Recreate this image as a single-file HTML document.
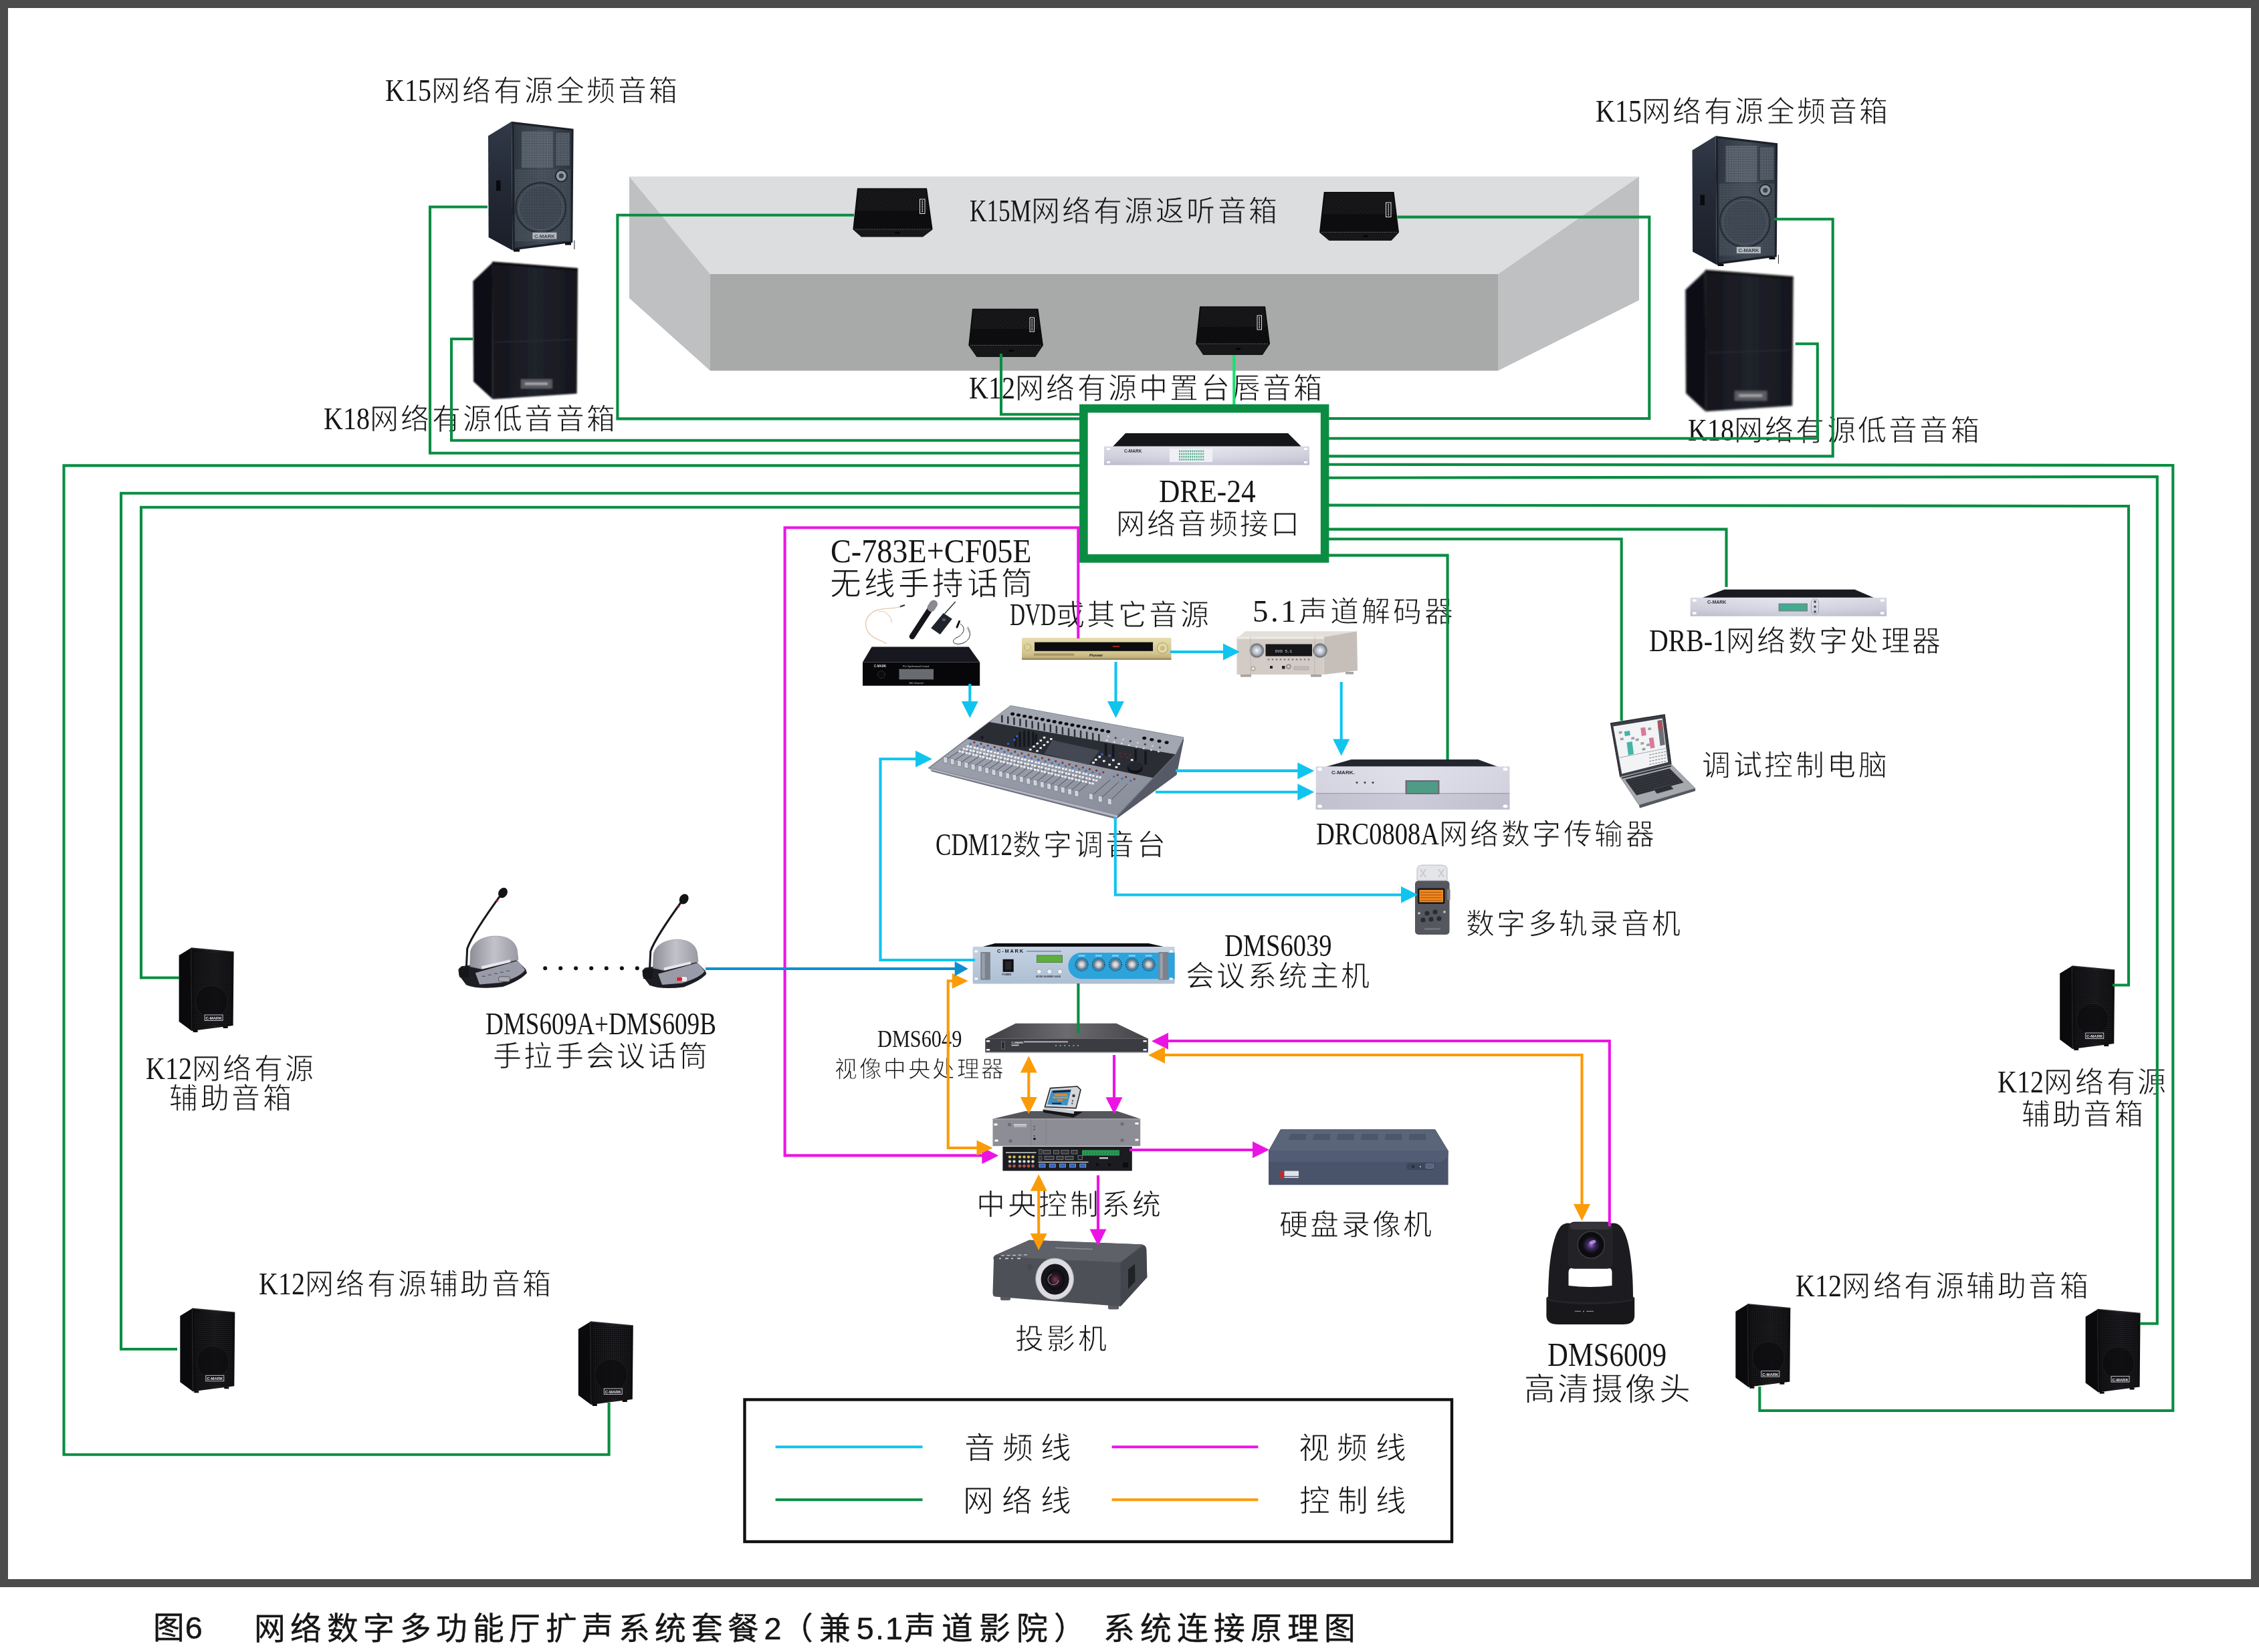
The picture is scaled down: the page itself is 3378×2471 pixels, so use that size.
<!DOCTYPE html><html lang="zh-CN"><head><meta charset="utf-8"><title>diagram</title><style>html,body{margin:0;padding:0;background:#fff}
body{width:3378px;height:2471px;position:relative;overflow:hidden}
.fr{position:absolute;left:0;top:0;width:3378px;height:2374px;background:#4c4c4c}
.in{position:absolute;left:12px;top:12px;width:3354px;height:2350px;background:#fff}
.t{position:absolute;white-space:nowrap;line-height:1;will-change:transform}
svg{position:absolute;left:0;top:0;will-change:transform}</style></head><body><div class="fr"></div><div class="in"></div><svg width="3378" height="2471" viewBox="0 0 3378 2471"><polygon points="941,264 2451,264 2240,410 1062,410" fill="#dcdddf" /><polygon points="941,264 1062,410 1062,554.5 941,446" fill="#bfc0c2" /><polygon points="2451,264 2451,449 2240,554.5 2240,410" fill="#bfc0c2" /><rect x="1062" y="410" width="1178" height="144.5" fill="#a8aaa9" /><rect x="1113.5" y="2093.5" width="1057.5" height="212.5" fill="#fff" stroke="#111" stroke-width="4.4"/><path d="M1159.6,2164.2H1379.5" fill="none" stroke="#10c4ee" stroke-width="4" /><path d="M1159.6,2243.3H1379.5" fill="none" stroke="#0a8d42" stroke-width="4" /><path d="M1662.6,2164.2H1881.4" fill="none" stroke="#ec14e4" stroke-width="4" /><path d="M1662.6,2243.3H1881.4" fill="none" stroke="#fb9b08" stroke-width="4" /></svg><div class="t" style="left:576.0px;top:112.2px;font-size:43.01px;letter-spacing:3.42px;font-family:'Liberation Serif',serif;color:#161616;-webkit-text-stroke:0.9px #fff;"><span style="display:inline-block;font-size:46.92px;letter-spacing:0;-webkit-text-stroke:0;transform:scaleX(0.8539);transform-origin:0 50%;margin-right:-11.80px">K15</span>网络有源全频音箱</div><div class="t" style="left:2385.5px;top:142.5px;font-size:43.01px;letter-spacing:3.42px;font-family:'Liberation Serif',serif;color:#161616;-webkit-text-stroke:0.9px #fff;"><span style="display:inline-block;font-size:46.92px;letter-spacing:0;-webkit-text-stroke:0;transform:scaleX(0.8539);transform-origin:0 50%;margin-right:-11.80px">K15</span>网络有源全频音箱</div><div class="t" style="left:1449.5px;top:291.5px;font-size:43.01px;letter-spacing:3.42px;font-family:'Liberation Serif',serif;color:#161616;-webkit-text-stroke:0.9px #dcdddf;"><span style="display:inline-block;font-size:46.92px;letter-spacing:0;-webkit-text-stroke:0;transform:scaleX(0.7509);transform-origin:0 50%;margin-right:-30.52px">K15M</span>网络有源返听音箱</div><div class="t" style="left:1448.5px;top:556.5px;font-size:43.01px;letter-spacing:3.27px;font-family:'Liberation Serif',serif;color:#161616;-webkit-text-stroke:0.9px #fff;"><span style="display:inline-block;font-size:46.92px;letter-spacing:0;-webkit-text-stroke:0;transform:scaleX(0.8539);transform-origin:0 50%;margin-right:-11.80px">K12</span>网络有源中置台唇音箱</div><div class="t" style="left:484.0px;top:603.1px;font-size:43.01px;letter-spacing:3.28px;font-family:'Liberation Serif',serif;color:#161616;-webkit-text-stroke:0.9px #fff;"><span style="display:inline-block;font-size:46.92px;letter-spacing:0;-webkit-text-stroke:0;transform:scaleX(0.8539);transform-origin:0 50%;margin-right:-11.80px">K18</span>网络有源低音音箱</div><div class="t" style="left:2523.7px;top:619.5px;font-size:43.01px;letter-spacing:3.23px;font-family:'Liberation Serif',serif;color:#161616;-webkit-text-stroke:0.9px #fff;"><span style="display:inline-block;font-size:46.92px;letter-spacing:0;-webkit-text-stroke:0;transform:scaleX(0.8539);transform-origin:0 50%;margin-right:-11.80px">K18</span>网络有源低音音箱</div><div class="t" style="left:1732.7px;top:711.0px;font-size:44.88px;letter-spacing:0.00px;font-family:'Liberation Serif',serif;color:#161616;-webkit-text-stroke:0.9px #fff;"><span style="display:inline-block;font-size:48.96px;letter-spacing:0;-webkit-text-stroke:0;transform:scaleX(0.8868);transform-origin:0 50%;margin-right:-18.47px">DRE-24</span></div><div class="t" style="left:1668.6px;top:763.1px;font-size:43.01px;letter-spacing:3.23px;font-family:'Liberation Serif',serif;color:#161616;-webkit-text-stroke:0.9px #fff;">网络音频接口</div><div class="t" style="left:1241.7px;top:798.9px;font-size:46.75px;letter-spacing:0.00px;font-family:'Liberation Serif',serif;color:#161616;-webkit-text-stroke:0.9px #fff;"><span style="display:inline-block;font-size:51.00px;letter-spacing:0;-webkit-text-stroke:0;transform:scaleX(0.9053);transform-origin:0 50%;margin-right:-31.44px">C-783E+CF05E</span></div><div class="t" style="left:1240.7px;top:849.5px;font-size:46.75px;letter-spacing:4.15px;font-family:'Liberation Serif',serif;color:#161616;-webkit-text-stroke:0.9px #fff;">无线手持话筒</div><div class="t" style="left:1510.0px;top:895.5px;font-size:43.01px;letter-spacing:3.49px;font-family:'Liberation Serif',serif;color:#161616;-webkit-text-stroke:0.9px #fff;"><span style="display:inline-block;font-size:46.92px;letter-spacing:0;-webkit-text-stroke:0;transform:scaleX(0.6788);transform-origin:0 50%;margin-right:-32.65px">DVD</span>或其它音源</div><div class="t" style="left:1873.0px;top:890.5px;font-size:43.01px;letter-spacing:3.99px;font-family:'Liberation Serif',serif;color:#161616;-webkit-text-stroke:0.9px #fff;"><span style="font-size:46.92px;letter-spacing:3.45px;-webkit-text-stroke:0">5.1</span>声道解码器</div><div class="t" style="left:1399.0px;top:1239.8px;font-size:43.01px;letter-spacing:3.49px;font-family:'Liberation Serif',serif;color:#161616;-webkit-text-stroke:0.9px #fff;"><span style="display:inline-block;font-size:46.92px;letter-spacing:0;-webkit-text-stroke:0;transform:scaleX(0.7476);transform-origin:0 50%;margin-right:-38.82px">CDM12</span>数字调音台</div><div class="t" style="left:1968.0px;top:1223.9px;font-size:43.01px;letter-spacing:3.49px;font-family:'Liberation Serif',serif;color:#161616;-webkit-text-stroke:0.9px #fff;"><span style="display:inline-block;font-size:46.92px;letter-spacing:0;-webkit-text-stroke:0;transform:scaleX(0.8207);transform-origin:0 50%;margin-right:-40.20px">DRC0808A</span>网络数字传输器</div><div class="t" style="left:2466.0px;top:934.5px;font-size:43.01px;letter-spacing:3.34px;font-family:'Liberation Serif',serif;color:#161616;-webkit-text-stroke:0.9px #fff;"><span style="display:inline-block;font-size:46.92px;letter-spacing:0;-webkit-text-stroke:0;transform:scaleX(0.8483);transform-origin:0 50%;margin-right:-20.56px">DRB-1</span>网络数字处理器</div><div class="t" style="left:2544.8px;top:1124.4px;font-size:43.01px;letter-spacing:3.71px;font-family:'Liberation Serif',serif;color:#161616;-webkit-text-stroke:0.9px #fff;">调试控制电脑</div><div class="t" style="left:2191.5px;top:1360.8px;font-size:43.01px;letter-spacing:3.31px;font-family:'Liberation Serif',serif;color:#161616;-webkit-text-stroke:0.9px #fff;">数字多轨录音机</div><div class="t" style="left:1831.0px;top:1390.5px;font-size:43.01px;letter-spacing:0.00px;font-family:'Liberation Serif',serif;color:#161616;-webkit-text-stroke:0.9px #fff;"><span style="display:inline-block;font-size:46.92px;letter-spacing:0;-webkit-text-stroke:0;transform:scaleX(0.8208);transform-origin:0 50%;margin-right:-35.04px">DMS6039</span></div><div class="t" style="left:1773.0px;top:1438.8px;font-size:43.01px;letter-spacing:3.39px;font-family:'Liberation Serif',serif;color:#161616;-webkit-text-stroke:0.9px #fff;">会议系统主机</div><div class="t" style="left:1311.6px;top:1535.5px;font-size:33.66px;letter-spacing:0.00px;font-family:'Liberation Serif',serif;color:#161616;-webkit-text-stroke:0.9px #fff;"><span style="display:inline-block;font-size:36.72px;letter-spacing:0;-webkit-text-stroke:0;transform:scaleX(0.8254);transform-origin:0 50%;margin-right:-26.72px">DMS6049</span></div><div class="t" style="left:1247.7px;top:1582.5px;font-size:33.66px;letter-spacing:2.57px;font-family:'Liberation Serif',serif;color:#161616;-webkit-text-stroke:0.9px #fff;">视像中央处理器</div><div class="t" style="left:726.0px;top:1507.5px;font-size:43.01px;letter-spacing:0.00px;font-family:'Liberation Serif',serif;color:#161616;-webkit-text-stroke:0.9px #fff;"><span style="display:inline-block;font-size:46.92px;letter-spacing:0;-webkit-text-stroke:0;transform:scaleX(0.7917);transform-origin:0 50%;margin-right:-90.80px">DMS609A+DMS609B</span></div><div class="t" style="left:736.7px;top:1558.9px;font-size:43.01px;letter-spacing:3.31px;font-family:'Liberation Serif',serif;color:#161616;-webkit-text-stroke:0.9px #fff;">手拉手会议话筒</div><div class="t" style="left:217.6px;top:1575.0px;font-size:43.01px;letter-spacing:3.39px;font-family:'Liberation Serif',serif;color:#161616;-webkit-text-stroke:0.9px #fff;"><span style="display:inline-block;font-size:46.92px;letter-spacing:0;-webkit-text-stroke:0;transform:scaleX(0.8539);transform-origin:0 50%;margin-right:-11.80px">K12</span>网络有源</div><div class="t" style="left:252.7px;top:1622.0px;font-size:43.01px;letter-spacing:3.69px;font-family:'Liberation Serif',serif;color:#161616;-webkit-text-stroke:0.9px #fff;">辅助音箱</div><div class="t" style="left:386.6px;top:1897.2px;font-size:43.01px;letter-spacing:3.45px;font-family:'Liberation Serif',serif;color:#161616;-webkit-text-stroke:0.9px #fff;"><span style="display:inline-block;font-size:46.92px;letter-spacing:0;-webkit-text-stroke:0;transform:scaleX(0.8539);transform-origin:0 50%;margin-right:-11.80px">K12</span>网络有源辅助音箱</div><div class="t" style="left:1459.9px;top:1781.2px;font-size:43.01px;letter-spacing:3.63px;font-family:'Liberation Serif',serif;color:#161616;-webkit-text-stroke:0.9px #fff;">中央控制系统</div><div class="t" style="left:1912.7px;top:1810.8px;font-size:43.01px;letter-spacing:3.32px;font-family:'Liberation Serif',serif;color:#161616;-webkit-text-stroke:0.9px #fff;">硬盘录像机</div><div class="t" style="left:1518.0px;top:1981.8px;font-size:43.01px;letter-spacing:4.04px;font-family:'Liberation Serif',serif;color:#161616;-webkit-text-stroke:0.9px #fff;">投影机</div><div class="t" style="left:2314.0px;top:2000.5px;font-size:46.75px;letter-spacing:0.00px;font-family:'Liberation Serif',serif;color:#161616;-webkit-text-stroke:0.9px #fff;"><span style="display:inline-block;font-size:51.00px;letter-spacing:0;-webkit-text-stroke:0;transform:scaleX(0.8378);transform-origin:0 50%;margin-right:-34.48px">DMS6009</span></div><div class="t" style="left:2278.7px;top:2054.9px;font-size:46.75px;letter-spacing:3.45px;font-family:'Liberation Serif',serif;color:#161616;-webkit-text-stroke:0.9px #fff;">高清摄像头</div><div class="t" style="left:2685.2px;top:1899.7px;font-size:43.01px;letter-spacing:3.56px;font-family:'Liberation Serif',serif;color:#161616;-webkit-text-stroke:0.9px #fff;"><span style="display:inline-block;font-size:46.92px;letter-spacing:0;-webkit-text-stroke:0;transform:scaleX(0.8539);transform-origin:0 50%;margin-right:-11.80px">K12</span>网络有源辅助音箱</div><div class="t" style="left:2987.3px;top:1594.5px;font-size:43.01px;letter-spacing:3.82px;font-family:'Liberation Serif',serif;color:#161616;-webkit-text-stroke:0.9px #fff;"><span style="display:inline-block;font-size:46.92px;letter-spacing:0;-webkit-text-stroke:0;transform:scaleX(0.8539);transform-origin:0 50%;margin-right:-11.80px">K12</span>网络有源</div><div class="t" style="left:3023.0px;top:1646.4px;font-size:43.01px;letter-spacing:3.22px;font-family:'Liberation Serif',serif;color:#161616;-webkit-text-stroke:0.9px #fff;">辅助音箱</div><div class="t" style="left:1442.4px;top:2144.0px;font-size:45.82px;letter-spacing:10.93px;font-family:'Liberation Serif',serif;color:#161616;-webkit-text-stroke:0.9px #fff;">音频线</div><div class="t" style="left:1941.7px;top:2144.0px;font-size:45.82px;letter-spacing:11.34px;font-family:'Liberation Serif',serif;color:#161616;-webkit-text-stroke:0.9px #fff;">视频线</div><div class="t" style="left:1440.4px;top:2223.2px;font-size:45.82px;letter-spacing:11.93px;font-family:'Liberation Serif',serif;color:#161616;-webkit-text-stroke:0.9px #fff;">网络线</div><div class="t" style="left:1942.7px;top:2223.2px;font-size:45.82px;letter-spacing:10.84px;font-family:'Liberation Serif',serif;color:#161616;-webkit-text-stroke:0.9px #fff;">控制线</div><div class="t" style="left:229.2px;top:2411.8px;font-size:46.75px;letter-spacing:0.65px;font-family:'Liberation Sans',sans-serif;color:#161616;-webkit-text-stroke:.45px #161616;">图<span style="letter-spacing:0.16px">6</span></div><div class="t" style="left:379.7px;top:2412.8px;font-size:46.75px;letter-spacing:7.47px;font-family:'Liberation Sans',sans-serif;color:#161616;-webkit-text-stroke:.45px #161616;">网络数字多功能厅扩声系统套餐<span style="letter-spacing:1.87px">2</span></div><div class="t" style="left:1169.0px;top:2412.8px;font-size:46.75px;letter-spacing:8.83px;font-family:'Liberation Sans',sans-serif;color:#161616;-webkit-text-stroke:.45px #161616;">（兼<span style="letter-spacing:2.21px">5.1</span>声道影院）</div><div class="t" style="left:1650.3px;top:2412.8px;font-size:46.75px;letter-spacing:7.93px;font-family:'Liberation Sans',sans-serif;color:#161616;-webkit-text-stroke:.45px #161616;">系统连接原理图</div><svg width="3378" height="2471" viewBox="0 0 3378 2471"><defs>
<pattern id="mesh" width="3" height="3" patternUnits="userSpaceOnUse"><rect width="3" height="3" fill="#0b0b0d"/><circle cx="1.5" cy="1.5" r=".8" fill="#3a3a40"/></pattern>
<pattern id="mesh4" width="3.2" height="3.2" patternUnits="userSpaceOnUse" patternTransform="rotate(30)"><circle cx="1.6" cy="1.6" r="1.05" fill="#050506" opacity=".85"/></pattern>
<pattern id="keys" width="4" height="3.4" patternUnits="userSpaceOnUse" patternTransform="rotate(-14) skewX(35)"><rect x=".4" y=".4" width="3.1" height="2.5" fill="#3c3e45"/></pattern>
<pattern id="mesh2" width="3" height="3" patternUnits="userSpaceOnUse"><rect width="3" height="3" fill="#2b323c"/><circle cx="1.5" cy="1.5" r=".9" fill="#586270"/></pattern>
<linearGradient id="k15f" x1="0" x2="1"><stop offset="0" stop-color="#313a45"/><stop offset=".5" stop-color="#4a545f"/><stop offset="1" stop-color="#2e3641"/></linearGradient>
<linearGradient id="k15s" x1="0" x2="0" y1="0" y2="1"><stop offset="0" stop-color="#323a48"/><stop offset=".5" stop-color="#232935"/><stop offset="1" stop-color="#1a1f29"/></linearGradient>
<pattern id="mesh3" width="2.6" height="2.6" patternUnits="userSpaceOnUse"><circle cx="1.3" cy="1.3" r=".75" fill="#1d232b" opacity=".75"/></pattern>
<linearGradient id="k18f" x1="0" x2="1"><stop offset="0" stop-color="#13141a"/><stop offset=".5" stop-color="#20222b"/><stop offset="1" stop-color="#15161d"/></linearGradient>
<linearGradient id="k12f" x1="0" x2="1"><stop offset="0" stop-color="#0c0c0e"/><stop offset=".55" stop-color="#1d1d21"/><stop offset="1" stop-color="#0d0d0f"/></linearGradient>
<linearGradient id="silv" x1="0" x2="0" y1="0" y2="1"><stop offset="0" stop-color="#e4e4ee"/><stop offset=".6" stop-color="#d0d0de"/><stop offset="1" stop-color="#b4b4c6"/></linearGradient>
<linearGradient id="silv2" x1="0" x2="1"><stop offset="0" stop-color="#c9c9d6"/><stop offset=".5" stop-color="#ececf4"/><stop offset="1" stop-color="#c4c4d2"/></linearGradient>
<linearGradient id="gold" x1="0" x2="0" y1="0" y2="1"><stop offset="0" stop-color="#e6dcae"/><stop offset=".7" stop-color="#d3c48e"/><stop offset="1" stop-color="#b9a871"/></linearGradient>
<linearGradient id="dmsf" x1="0" x2="0" y1="0" y2="1"><stop offset="0" stop-color="#c4d2e2"/><stop offset="1" stop-color="#aebfd3"/></linearGradient>
<linearGradient id="top49" x1="0" x2="1"><stop offset="0" stop-color="#3e3e42"/><stop offset=".5" stop-color="#6c6c70"/><stop offset="1" stop-color="#444448"/></linearGradient>
<radialGradient id="knob"><stop offset="0" stop-color="#f4f6f8"/><stop offset=".6" stop-color="#aeb6c0"/><stop offset="1" stop-color="#5a626c"/></radialGradient>
<radialGradient id="lens"><stop offset="0" stop-color="#7a3a5a"/><stop offset=".5" stop-color="#2a1622"/><stop offset="1" stop-color="#0c0c10"/></radialGradient>
<radialGradient id="lens2"><stop offset="0" stop-color="#9a6ad0"/><stop offset=".45" stop-color="#3a2a5a"/><stop offset="1" stop-color="#0a0a0e"/></radialGradient>
<linearGradient id="mixs" x1="0" x2="1" y1="0" y2="1"><stop offset="0" stop-color="#a4a9b4"/><stop offset="1" stop-color="#868b98"/></linearGradient>
<linearGradient id="grille" x1="0" x2="1"><stop offset="0" stop-color="#8e8e98"/><stop offset=".5" stop-color="#c2c2ca"/><stop offset="1" stop-color="#9a9aa4"/></linearGradient>
<filter id="b1" x="-5%" y="-5%" width="110%" height="110%"><feGaussianBlur stdDeviation="1.3"/></filter>
<filter id="b05" x="-5%" y="-5%" width="110%" height="110%"><feGaussianBlur stdDeviation=".6"/></filter>
<g id="k12">
<polygon points="0,11 18,0 19,124 0,110" fill="#0a0a0c"/>
<polygon points="18,0 82,6 81,116 19,124" fill="url(#k12f)"/>
<polygon points="22,5 79,10 78,113 23,120" fill="url(#mesh)" opacity=".55"/>
<circle cx="49" cy="80" r="24" fill="#0a0a0c" opacity=".55" stroke="#26262a" stroke-width="1"/>
<rect x="38.5" y="100" width="27" height="8.5" fill="#15151a" stroke="#cfcfd4" stroke-width=".9"/>
<text x="52" y="107" font-family="Liberation Sans,sans-serif" font-weight="bold" font-size="6" fill="#e8e8ec" text-anchor="middle">C-MARK</text>
<rect x="21" y="123" width="7" height="3" fill="#0a0a0c"/><rect x="66" y="117" width="7" height="3" fill="#0a0a0c"/>
<path d="M18,0L82,6" stroke="#2c2c31" stroke-width="1.5"/><path d="M18,0L19,124" stroke="#242428" stroke-width="1.2"/>
</g>
<g id="k15">
<polygon points="730,203.2 765.1,181.7 766.4,374.4 730.6,354.9" fill="url(#k15s)"/>
<polygon points="765.1,181.7 857.6,192.8 856.3,362.7 766.4,374.4" fill="#1b2029"/>
<polygon points="768.5,185.5 854.6,195.6 853.4,359.8 769.6,370.4" fill="url(#k15f)"/>
<rect x="780" y="196.5" width="47" height="54.5" fill="#6a747f" opacity=".8"/>
<rect x="831.5" y="198.5" width="20.5" height="49" fill="#636d78" opacity=".8"/>
<rect x="770" y="253" width="83" height="108" fill="#56606b" opacity=".55"/>
<circle cx="808.7" cy="310.6" r="37.5" fill="#454f5a" stroke="#252c35" stroke-width="2.2"/>
<circle cx="808.7" cy="310.6" r="33" fill="none" stroke="#5f6974" stroke-width="1"/>
<polygon points="768.5,185.5 854.6,195.6 853.4,359.8 769.6,370.4" fill="url(#mesh3)"/>
<circle cx="839.3" cy="263.1" r="8.6" fill="#8d97a2" stroke="#1f252d" stroke-width="2"/><circle cx="839.3" cy="263.1" r="3.6" fill="#39414b"/>
<rect x="796.4" y="347.7" width="36" height="9.8" fill="#b4b9bf"/>
<text x="814.4" y="355.6" font-family="Liberation Sans,sans-serif" font-weight="bold" font-size="7.6" fill="#3a4048" text-anchor="middle">C-MARK</text>
<rect x="742" y="270" width="6.5" height="15.5" fill="#080a0d"/>
<rect x="768" y="373" width="9" height="3.5" fill="#0c0e12"/><rect x="845" y="363" width="9" height="3.5" fill="#0c0e12"/>
<rect x="858.4" y="359.5" width="1" height="13.5" fill="#222"/>
</g>
<g id="k18" filter="url(#b1)">
<polygon points="707.4,420.4 735.9,393.2 736.6,597.1 708.1,570.7" fill="#0d0d13"/>
<polygon points="735.9,393.2 864,403 862.6,588.8 736.6,597.1" fill="url(#k18f)"/>
<rect x="779" y="567.2" width="46.7" height="14" fill="#5a5b62"/>
<rect x="785" y="572.5" width="34" height="3" fill="#b0b0b8"/>
<path d="M735.9,393.2L864,403" stroke="#07070a" stroke-width="4"/>
<path d="M740,512L858,508" stroke="#30323c" stroke-width="1"/>
</g>
</defs><use href="#k15"/><use href="#k15" transform="translate(1800.5,21.5)"/><use href="#k18"/><use href="#k18" transform="translate(1791.7,0.5) scale(1.03)"/><use href="#k12" x="267.6" y="1418"/><use href="#k12" x="269.3" y="1957.3"/><use href="#k12" x="864.8" y="1977"/><use href="#k12" x="3080.2" y="1445"/><use href="#k12" x="2595.3" y="1950.7"/><use href="#k12" x="3118.6" y="1958.6"/><polygon points="1282,281.4 1386,281.4 1394.6,343 1380,354.2 1288,354.2 1275.4,343" fill="#0b0b0d" /><polygon points="1284,282.9 1384,282.9 1392.6,342 1277.4,342" fill="#1c1c1f" /><polygon points="1280.37,315.28 1388.73,315.28 1392.6,342 1277.4,342" fill="#101012" /><polygon points="1284,282.9 1384,282.9 1392.6,342 1277.4,342" fill="url(#mesh4)" /><path d="M1278.4,343H1391.6" stroke="#c8c8cc" stroke-width="1" stroke-dasharray="1 1.6" opacity=".8"/><polygon points="1276.4,344 1393.6,344 1380,354.2 1288,354.2" fill="#17171a" /><ellipse cx="1342" cy="348.04" rx="4" ry="1.6" fill="#050506" /><rect x="1375.5" y="298" width="7.5" height="21.5" fill="#111" stroke="#e4e4e8" stroke-width="1"/><path d="M1379.25,300V317.5" stroke="#e4e4e8" stroke-width="1.6" stroke-dasharray="1.6 1"/><polygon points="1979.7,287 2084.5,287 2092,347.4 2080.5,359.8 1987.5,359.8 1973,347.4" fill="#0b0b0d" /><polygon points="1981.7,288.5 2082.5,288.5 2090,346.4 1975,346.4" fill="#1c1c1f" /><polygon points="1978.02,320.22 2086.62,320.22 2090,346.4 1975,346.4" fill="#101012" /><polygon points="1981.7,288.5 2082.5,288.5 2090,346.4 1975,346.4" fill="url(#mesh4)" /><path d="M1976,347.4H2089" stroke="#c8c8cc" stroke-width="1" stroke-dasharray="1 1.6" opacity=".8"/><polygon points="1974,348.4 2091,348.4 2080.5,359.8 1987.5,359.8" fill="#17171a" /><ellipse cx="2042" cy="352.98" rx="4" ry="1.6" fill="#050506" /><rect x="2072.5" y="303" width="7.5" height="21.5" fill="#111" stroke="#e4e4e8" stroke-width="1"/><path d="M2076.25,305V322.5" stroke="#e4e4e8" stroke-width="1.6" stroke-dasharray="1.6 1"/><polygon points="1454,461.7 1552.5,461.7 1559.9,516.6 1548,534 1460.7,534 1448.3,516.6" fill="#0b0b0d" /><polygon points="1456,463.2 1550.5,463.2 1557.9,515.6 1450.3,515.6" fill="#1c1c1f" /><polygon points="1452.87,491.895 1554.57,491.895 1557.9,515.6 1450.3,515.6" fill="#101012" /><polygon points="1456,463.2 1550.5,463.2 1557.9,515.6 1450.3,515.6" fill="url(#mesh4)" /><path d="M1451.3,516.6H1556.9" stroke="#c8c8cc" stroke-width="1" stroke-dasharray="1 1.6" opacity=".8"/><polygon points="1449.3,517.6 1558.9,517.6 1548,534 1460.7,534" fill="#17171a" /><ellipse cx="1512.35" cy="524.43" rx="4" ry="1.6" fill="#050506" /><rect x="1540" y="475" width="6.5" height="21" fill="#111" stroke="#e4e4e8" stroke-width="1"/><path d="M1543.25,477V494" stroke="#e4e4e8" stroke-width="1.6" stroke-dasharray="1.6 1"/><polygon points="1794,458.3 1892,458.3 1899,514.3 1887.8,531 1799.4,531 1788.2,514.3" fill="#0b0b0d" /><polygon points="1796,459.8 1890,459.8 1897,513.3 1790.2,513.3" fill="#1c1c1f" /><polygon points="1792.81,489.1 1893.85,489.1 1897,513.3 1790.2,513.3" fill="#101012" /><polygon points="1796,459.8 1890,459.8 1897,513.3 1790.2,513.3" fill="url(#mesh4)" /><path d="M1791.2,514.3H1896" stroke="#c8c8cc" stroke-width="1" stroke-dasharray="1 1.6" opacity=".8"/><polygon points="1789.2,515.3 1898,515.3 1887.8,531 1799.4,531" fill="#17171a" /><ellipse cx="1851.6" cy="521.815" rx="4" ry="1.6" fill="#050506" /><rect x="1880" y="472" width="6.5" height="21" fill="#111" stroke="#e4e4e8" stroke-width="1"/><path d="M1883.25,474V491" stroke="#e4e4e8" stroke-width="1.6" stroke-dasharray="1.6 1"/><polygon points="1683,648 1926,648 1946,668 1664,668" fill="#15161a" /><rect x="1651" y="667.6" width="307" height="28" fill="url(#silv)" /><rect x="1651" y="667.6" width="307" height="28" fill="url(#silv2)" opacity=".35"/><rect x="1749" y="671" width="64" height="20" fill="#eef0f4" /><rect x="1763" y="673.5" width="2" height="2.6" fill="#58b090" /><rect x="1763" y="677.7" width="2" height="2.6" fill="#58b090" /><rect x="1763" y="681.9" width="2" height="2.6" fill="#58b090" /><rect x="1763" y="686.1" width="2" height="2.6" fill="#58b090" /><rect x="1766.2" y="673.5" width="2" height="2.6" fill="#58b090" /><rect x="1766.2" y="677.7" width="2" height="2.6" fill="#58b090" /><rect x="1766.2" y="681.9" width="2" height="2.6" fill="#58b090" /><rect x="1766.2" y="686.1" width="2" height="2.6" fill="#58b090" /><rect x="1769.4" y="673.5" width="2" height="2.6" fill="#58b090" /><rect x="1769.4" y="677.7" width="2" height="2.6" fill="#58b090" /><rect x="1769.4" y="681.9" width="2" height="2.6" fill="#58b090" /><rect x="1769.4" y="686.1" width="2" height="2.6" fill="#58b090" /><rect x="1772.6" y="673.5" width="2" height="2.6" fill="#58b090" /><rect x="1772.6" y="677.7" width="2" height="2.6" fill="#58b090" /><rect x="1772.6" y="681.9" width="2" height="2.6" fill="#58b090" /><rect x="1772.6" y="686.1" width="2" height="2.6" fill="#58b090" /><rect x="1775.8" y="673.5" width="2" height="2.6" fill="#58b090" /><rect x="1775.8" y="677.7" width="2" height="2.6" fill="#58b090" /><rect x="1775.8" y="681.9" width="2" height="2.6" fill="#58b090" /><rect x="1775.8" y="686.1" width="2" height="2.6" fill="#58b090" /><rect x="1779" y="673.5" width="2" height="2.6" fill="#58b090" /><rect x="1779" y="677.7" width="2" height="2.6" fill="#58b090" /><rect x="1779" y="681.9" width="2" height="2.6" fill="#58b090" /><rect x="1779" y="686.1" width="2" height="2.6" fill="#58b090" /><rect x="1782.2" y="673.5" width="2" height="2.6" fill="#58b090" /><rect x="1782.2" y="677.7" width="2" height="2.6" fill="#58b090" /><rect x="1782.2" y="681.9" width="2" height="2.6" fill="#58b090" /><rect x="1782.2" y="686.1" width="2" height="2.6" fill="#58b090" /><rect x="1785.4" y="673.5" width="2" height="2.6" fill="#58b090" /><rect x="1785.4" y="677.7" width="2" height="2.6" fill="#58b090" /><rect x="1785.4" y="681.9" width="2" height="2.6" fill="#58b090" /><rect x="1785.4" y="686.1" width="2" height="2.6" fill="#58b090" /><rect x="1788.6" y="673.5" width="2" height="2.6" fill="#58b090" /><rect x="1788.6" y="677.7" width="2" height="2.6" fill="#58b090" /><rect x="1788.6" y="681.9" width="2" height="2.6" fill="#58b090" /><rect x="1788.6" y="686.1" width="2" height="2.6" fill="#58b090" /><rect x="1791.8" y="673.5" width="2" height="2.6" fill="#58b090" /><rect x="1791.8" y="677.7" width="2" height="2.6" fill="#58b090" /><rect x="1791.8" y="681.9" width="2" height="2.6" fill="#58b090" /><rect x="1791.8" y="686.1" width="2" height="2.6" fill="#58b090" /><rect x="1795" y="673.5" width="2" height="2.6" fill="#58b090" /><rect x="1795" y="677.7" width="2" height="2.6" fill="#58b090" /><rect x="1795" y="681.9" width="2" height="2.6" fill="#58b090" /><rect x="1795" y="686.1" width="2" height="2.6" fill="#58b090" /><rect x="1798.2" y="673.5" width="2" height="2.6" fill="#58b090" /><rect x="1798.2" y="677.7" width="2" height="2.6" fill="#58b090" /><rect x="1798.2" y="681.9" width="2" height="2.6" fill="#58b090" /><rect x="1798.2" y="686.1" width="2" height="2.6" fill="#58b090" /><text x="1681" y="676.5" font-family="Liberation Sans,sans-serif" font-weight="bold" font-size="6.5" fill="#333">C-MARK</text><rect x="1655" y="670" width="5" height="3" fill="#fff" /><rect x="1655" y="690" width="5" height="3" fill="#fff" /><rect x="1950" y="670" width="5" height="3" fill="#fff" /><rect x="1950" y="690" width="5" height="3" fill="#fff" /><polygon points="2578.5,881.8 2773.5,881.8 2802,894 2545.8,894" fill="#1a1b20" /><rect x="2527.7" y="893.8" width="293.5" height="27.8" fill="url(#silv)" /><rect x="2527.7" y="893.8" width="293.5" height="27.8" fill="url(#silv2)" opacity=".35"/><rect x="2659.5" y="902.5" width="43.5" height="12" fill="#7a8088" /><rect x="2661" y="904" width="40.5" height="9" fill="#3fae8e" /><text x="2553" y="903" font-family="Liberation Sans,sans-serif" font-weight="bold" font-size="7" fill="#333">C-MARK</text><circle cx="2714" cy="900" r="2" fill="#555a66" /><circle cx="2714" cy="907.5" r="2" fill="#555a66" /><circle cx="2714" cy="915" r="2" fill="#555a66" /><rect x="2708.5" y="896" width="11" height="23" fill="none" stroke="#9a9aa8" stroke-width=".8" rx="5"/><rect x="2531" y="896.5" width="5.5" height="3.5" fill="#fff" /><rect x="2531" y="915.5" width="5.5" height="3.5" fill="#fff" /><rect x="2812" y="896.5" width="5.5" height="3.5" fill="#fff" /><rect x="2812" y="915.5" width="5.5" height="3.5" fill="#fff" /><polygon points="2020.7,1135.9 2210.2,1135.9 2240.2,1147 1982.2,1147" fill="#24262f" /><rect x="1967.8" y="1146.6" width="289.5" height="64" fill="url(#silv)" /><rect x="1967.8" y="1146.6" width="289.5" height="40" fill="#d9d9e6" opacity=".8"/><rect x="1967.8" y="1186" width="289.5" height="1.6" fill="#8e8ea0" /><rect x="1967.8" y="1187.6" width="289.5" height="23" fill="#bdbdcd" /><rect x="1967.8" y="1146.6" width="289.5" height="64" fill="url(#silv2)" opacity=".3"/><rect x="2101.5" y="1167" width="51" height="21" fill="#6a6e78" /><rect x="2104" y="1169.5" width="46" height="16.5" fill="#4f9c86" /><text x="1991" y="1158" font-family="Liberation Sans,sans-serif" font-weight="bold" font-size="8" fill="#2a2a30">C-MARK.</text><circle cx="2029" cy="1170.5" r="1.6" fill="#444" /><circle cx="2041" cy="1170.5" r="1.6" fill="#444" /><circle cx="2053" cy="1170.5" r="1.6" fill="#444" /><ellipse cx="1973.5" cy="1150.5" rx="3.5" ry="2.5" fill="#fff" /><ellipse cx="1973.5" cy="1206" rx="3.5" ry="2.5" fill="#fff" /><ellipse cx="2251" cy="1150.5" rx="3.5" ry="2.5" fill="#fff" /><ellipse cx="2251" cy="1206" rx="3.5" ry="2.5" fill="#fff" /><polygon points="1303.6,967.6 1448.7,967.6 1465.2,990.5 1290,990.5" fill="#16171f" /><rect x="1290" y="990.5" width="175.2" height="35.2" fill="#07070a" /><rect x="1344.5" y="1000.7" width="51.5" height="15.6" fill="#686b70" /><circle cx="1318" cy="1009" r="5.5" fill="#0c0c10" stroke="#8a8a90" stroke-width=".8" stroke-dasharray="1 2"/><text x="1307" y="997.5" font-family="Liberation Sans,sans-serif" font-weight="bold" font-size="4.5" fill="#ddd">C-MARK</text><text x="1350" y="997.5" font-family="Liberation Sans,sans-serif" font-size="3.6" fill="#ccc">PLL Synthesized Control</text><text x="1359" y="1022.5" font-family="Liberation Sans,sans-serif" font-size="3.8" fill="#ccc">100 Channel</text><path d="M1391.5,910L1364,952" stroke="#15151a" stroke-width="8.6" stroke-linecap="round"/><path d="M1396,903.5L1392.5,909" stroke="#8a8a90" stroke-width="12" stroke-linecap="round"/><polygon points="1410.7,917 1423.8,925.8 1405.8,949 1392.2,939.4" fill="#1f232b" /><path d="M1412.5,918L1428.7,900" stroke="#222" stroke-width="1.3"/><rect x="1409" y="925" width="5" height="4" fill="#556" /><path d="M1434.5,929.5L1431,938" stroke="#111" stroke-width="3" stroke-linecap="round"/><path d="M1436,933C1446,940 1440,950 1430,954C1420,960 1428,966 1440,962C1452,957 1452,946 1448,940" fill="none" stroke="#222" stroke-width="1"/><path d="M1447,938L1450,946" stroke="#b0a090" stroke-width="2.5"/><path d="M1352,905.5C1340,912 1325,908 1310,913C1294,920 1290,935 1300,948C1308,957 1320,958 1326,963" fill="none" stroke="#e4c9ae" stroke-width="1.4"/><path d="M1313,915C1325,912 1335,925 1333,932" fill="none" stroke="#e8d2ba" stroke-width="1.2"/><path d="M1346,907.5L1353,905" stroke="#3a3028" stroke-width="2.2"/><rect x="1528" y="954" width="223.5" height="33" fill="url(#gold)" rx="2"/><rect x="1547" y="960.6" width="177" height="13.2" fill="#0c0c0e" /><circle cx="1738.3" cy="969.4" r="8" fill="#e2d8a8" stroke="#a89a60" stroke-width="1"/><circle cx="1738.3" cy="969.4" r="3.5" fill="#cabc80" /><circle cx="1536.5" cy="968" r="5" fill="#dcd09c" stroke="#a89a60" stroke-width=".8"/><text x="1629" y="981.5" font-family="Liberation Sans,sans-serif" font-weight="bold" font-style="italic" font-size="5.5" fill="#222">Pioneer</text><rect x="1546" y="977.5" width="60" height="3.2" fill="#8e8458" opacity=".7"/><rect x="1664" y="966" width="10" height="2" fill="#a02818" /><rect x="1528" y="984.5" width="223.5" height="2.5" fill="#9a8c5c" /><polygon points="1852,952.7 1862,944.3 2029,944.3 1979.8,952.7" fill="#e4dfda" /><polygon points="1979.8,952.7 2029,944.3 2030,1003 1979.8,1009" fill="#c6bfb9" /><rect x="1849.5" y="952.7" width="130.3" height="56.3" fill="#d3ccc6" /><rect x="1849.5" y="952.7" width="130.3" height="3" fill="#ece8e4" /><rect x="1892.5" y="963.5" width="69.5" height="18" fill="#17171a" /><text x="1907" y="975.5" font-family="Liberation Mono,monospace" font-size="6" fill="#cfd8e8">DVD  5.1</text><circle cx="1879.4" cy="973" r="10.5" fill="url(#knob)" stroke="#8a847e" stroke-width=".8"/><circle cx="1974" cy="973" r="10.5" fill="url(#knob)" stroke="#8a847e" stroke-width=".8"/><circle cx="1897" cy="986.5" r="1.4" fill="#8a847e" /><circle cx="1903" cy="986.5" r="1.4" fill="#8a847e" /><circle cx="1909" cy="986.5" r="1.4" fill="#8a847e" /><circle cx="1915" cy="986.5" r="1.4" fill="#8a847e" /><circle cx="1921" cy="986.5" r="1.4" fill="#8a847e" /><circle cx="1927" cy="986.5" r="1.4" fill="#8a847e" /><circle cx="1933" cy="986.5" r="1.4" fill="#8a847e" /><circle cx="1939" cy="986.5" r="1.4" fill="#8a847e" /><circle cx="1945" cy="986.5" r="1.4" fill="#8a847e" /><circle cx="1951" cy="986.5" r="1.4" fill="#8a847e" /><circle cx="1957" cy="986.5" r="1.4" fill="#8a847e" /><circle cx="1874" cy="1000" r="3" fill="#e8e4e0" stroke="#7a746e" stroke-width=".8"/><rect x="1899" y="996" width="4" height="4" fill="#222" /><rect x="1917" y="996" width="4.5" height="4.5" fill="#222" /><circle cx="1927" cy="997" r="3.3" fill="#c8c2bc" stroke="#555" stroke-width=".8"/><rect x="1935" y="997" width="22" height="5" fill="#c2bbb5" stroke="#a09890" stroke-width=".5"/><rect x="1855" y="1009" width="16" height="3.5" fill="#a8a29c" /><rect x="1960" y="1009" width="16" height="3.5" fill="#a8a29c" /><rect x="2012" y="1005" width="12" height="3.5" fill="#a8a29c" /><path d="M1870,953V1009M1966,953V1009" stroke="#bab3ad" stroke-width=".8"/><polygon points="1769.7,1103.2 1770.1,1107.3 1759.5,1159 1669.7,1224.8 1671.2,1219.4 1757.6,1128.3" fill="#565a66" /><polygon points="1511.3,1055.8 1769.7,1103.2 1757.6,1128.3 1671.2,1219.4 1388.6,1148.8" fill="url(#mixs)" stroke="#7a7f8c" stroke-width="1.5" stroke-linejoin="round"/><polygon points="1511.3,1055.8 1769.7,1103.2 1757.6,1128.3 1479.7,1080" fill="#a2a6b0" /><polygon points="1479.7,1080 1757.6,1128.3 1724.2,1163.6 1446.2,1105.1" fill="#2b2d35" /><polygon points="1388.6,1148.8 1393.8,1154.1 1667.8,1224.8 1671.2,1219.4" fill="#b4b8c4" /><polygon points="1390.8,1151.5 1393.8,1154.1 1667.8,1224.8 1668.9,1222.6" fill="#6e727e" /><polygon points="1573.6,1106.9 1644.2,1122.7 1627.5,1144.1 1561.5,1127.4" fill="#434852" /><ellipse cx="1514.1" cy="1067.9" rx="3" ry="2.3" fill="#0c0c10" /><ellipse cx="1523" cy="1069.5" rx="3" ry="2.3" fill="#0c0c10" /><ellipse cx="1532" cy="1071.2" rx="3" ry="2.3" fill="#0c0c10" /><ellipse cx="1540.9" cy="1072.8" rx="3" ry="2.3" fill="#0c0c10" /><ellipse cx="1549.9" cy="1074.5" rx="3" ry="2.3" fill="#0c0c10" /><ellipse cx="1558.8" cy="1076.1" rx="3" ry="2.3" fill="#0c0c10" /><ellipse cx="1567.8" cy="1077.8" rx="3" ry="2.3" fill="#0c0c10" /><ellipse cx="1576.7" cy="1079.4" rx="3" ry="2.3" fill="#0c0c10" /><ellipse cx="1585.7" cy="1081.1" rx="3" ry="2.3" fill="#0c0c10" /><ellipse cx="1594.6" cy="1082.7" rx="3" ry="2.3" fill="#0c0c10" /><ellipse cx="1603.5" cy="1084.4" rx="3" ry="2.3" fill="#0c0c10" /><ellipse cx="1612.5" cy="1086" rx="3" ry="2.3" fill="#0c0c10" /><ellipse cx="1621.4" cy="1087.7" rx="3" ry="2.3" fill="#0c0c10" /><ellipse cx="1630.4" cy="1089.3" rx="3" ry="2.3" fill="#0c0c10" /><ellipse cx="1639.3" cy="1091" rx="3" ry="2.3" fill="#0c0c10" /><ellipse cx="1648.3" cy="1092.6" rx="3" ry="2.3" fill="#0c0c10" /><ellipse cx="1657.2" cy="1094.3" rx="3" ry="2.3" fill="#0c0c10" /><ellipse cx="1711.1" cy="1104.1" rx="3" ry="2.3" fill="#0c0c10" /><ellipse cx="1722.3" cy="1106.3" rx="3" ry="2.3" fill="#0c0c10" /><ellipse cx="1733.5" cy="1108.5" rx="3" ry="2.3" fill="#0c0c10" /><ellipse cx="1744.6" cy="1110.6" rx="3" ry="2.3" fill="#0c0c10" /><path d="M1498.3,1070.7v9" stroke="#30323a" stroke-width="2.6" stroke-linecap="round"/><path d="M1507.3,1072.5v9" stroke="#30323a" stroke-width="2.6" stroke-linecap="round"/><path d="M1516.4,1074.2v9" stroke="#30323a" stroke-width="2.6" stroke-linecap="round"/><path d="M1525.5,1076.0v9" stroke="#30323a" stroke-width="2.6" stroke-linecap="round"/><path d="M1534.5,1077.8v9" stroke="#30323a" stroke-width="2.6" stroke-linecap="round"/><path d="M1543.6,1079.6v9" stroke="#30323a" stroke-width="2.6" stroke-linecap="round"/><path d="M1552.7,1081.3v9" stroke="#30323a" stroke-width="2.6" stroke-linecap="round"/><path d="M1561.7,1083.1v9" stroke="#30323a" stroke-width="2.6" stroke-linecap="round"/><path d="M1570.8,1084.9v9" stroke="#30323a" stroke-width="2.6" stroke-linecap="round"/><path d="M1579.8,1086.7v9" stroke="#30323a" stroke-width="2.6" stroke-linecap="round"/><path d="M1588.9,1088.5v9" stroke="#30323a" stroke-width="2.6" stroke-linecap="round"/><path d="M1598.0,1090.2v9" stroke="#30323a" stroke-width="2.6" stroke-linecap="round"/><path d="M1607.0,1092.0v9" stroke="#30323a" stroke-width="2.6" stroke-linecap="round"/><path d="M1616.1,1093.8v9" stroke="#30323a" stroke-width="2.6" stroke-linecap="round"/><path d="M1625.2,1095.6v9" stroke="#30323a" stroke-width="2.6" stroke-linecap="round"/><path d="M1634.2,1097.3v9" stroke="#30323a" stroke-width="2.6" stroke-linecap="round"/><path d="M1643.3,1099.1v9" stroke="#30323a" stroke-width="2.6" stroke-linecap="round"/><circle cx="1657.2" cy="1101.3" r="1.5" fill="#d0d0d8" /><circle cx="1655.2" cy="1107.3" r="1.5" fill="#d8d8e0" /><circle cx="1668.2" cy="1103.7" r="1.5" fill="#5a3030" /><circle cx="1666.2" cy="1109.7" r="1.5" fill="#d8d8e0" /><circle cx="1679.3" cy="1106.1" r="1.5" fill="#d0d0d8" /><circle cx="1677.3" cy="1112.1" r="1.5" fill="#d8d8e0" /><circle cx="1690.3" cy="1108.5" r="1.5" fill="#5a3030" /><circle cx="1688.3" cy="1114.5" r="1.5" fill="#d8d8e0" /><circle cx="1701.3" cy="1110.9" r="1.5" fill="#d0d0d8" /><circle cx="1699.3" cy="1116.9" r="1.5" fill="#d8d8e0" /><circle cx="1712.3" cy="1113.3" r="1.5" fill="#5a3030" /><circle cx="1710.3" cy="1119.3" r="1.5" fill="#d8d8e0" /><circle cx="1723.4" cy="1115.7" r="1.5" fill="#d0d0d8" /><circle cx="1721.4" cy="1121.7" r="1.5" fill="#d8d8e0" /><circle cx="1734.4" cy="1118.1" r="1.5" fill="#5a3030" /><circle cx="1732.4" cy="1124.1" r="1.5" fill="#d8d8e0" /><path d="M1518.7,1101.3v13.9431" stroke="#17181d" stroke-width="3.3" stroke-linecap="round"/><path d="M1525.2,1095.8v20.4499" stroke="#17181d" stroke-width="3.3" stroke-linecap="round"/><path d="M1531.7,1093.9v22.309" stroke="#17181d" stroke-width="3.3" stroke-linecap="round"/><path d="M1538.2,1093.9v21.3794" stroke="#17181d" stroke-width="3.3" stroke-linecap="round"/><path d="M1544.8,1095.8v18.5908" stroke="#17181d" stroke-width="3.3" stroke-linecap="round"/><path d="M1549.4,1099.5v13.0136" stroke="#17181d" stroke-width="3.3" stroke-linecap="round"/><circle cx="1520.6" cy="1101.3" r="1.8" fill="#3a5ad0" /><circle cx="1516.9" cy="1106.6" r="1.8" fill="#3a5ad0" /><circle cx="1507.6" cy="1112.5" r="1.8" fill="#3a5ad0" /><circle cx="1468.5" cy="1103.2" r="2.2" fill="#14141a" /><rect x="1559.9" y="1101.8" width="3.4" height="2.8" fill="#f4f4f8" /><rect x="1570.1" y="1104" width="3.4" height="2.8" fill="#f4f4f8" /><rect x="1554.7" y="1106.3" width="3.4" height="2.8" fill="#f4f4f8" /><rect x="1564.9" y="1108.5" width="3.4" height="2.8" fill="#f4f4f8" /><rect x="1549.5" y="1110.7" width="3.4" height="2.8" fill="#f4f4f8" /><rect x="1559.7" y="1113" width="3.4" height="2.8" fill="#f4f4f8" /><rect x="1544.3" y="1115.2" width="3.4" height="2.8" fill="#f4f4f8" /><rect x="1554.5" y="1117.4" width="3.4" height="2.8" fill="#f4f4f8" /><rect x="1539.1" y="1119.7" width="3.4" height="2.8" fill="#f4f4f8" /><rect x="1549.3" y="1121.9" width="3.4" height="2.8" fill="#f4f4f8" /><rect x="1642.5" y="1130.6" width="3.6" height="2.9" fill="#f4f4f8" /><rect x="1636.9" y="1134.9" width="3.6" height="2.9" fill="#f4f4f8" /><rect x="1633.2" y="1139.4" width="3.6" height="2.9" fill="#f4f4f8" /><rect x="1649" y="1136.8" width="3.6" height="2.9" fill="#f4f4f8" /><rect x="1663" y="1135.6" width="3.6" height="2.9" fill="#f4f4f8" /><rect x="1657.4" y="1142.3" width="3.6" height="2.9" fill="#f4f4f8" /><rect x="1671.3" y="1141.2" width="3.6" height="2.9" fill="#f4f4f8" /><rect x="1667.6" y="1146.1" width="3.6" height="2.9" fill="#f4f4f8" /><rect x="1690.9" y="1135.3" width="3.6" height="2.9" fill="#f4f4f8" /><circle cx="1674.9" cy="1126.4" r="1.3" fill="#6a2a2a" /><circle cx="1682.3" cy="1128.3" r="1.3" fill="#6a2a2a" /><circle cx="1689.8" cy="1129.2" r="1.3" fill="#6a2a2a" /><circle cx="1676.7" cy="1132" r="1.3" fill="#6a2a2a" /><circle cx="1686" cy="1133" r="1.3" fill="#6a2a2a" /><path d="M1653.5,1113.4v15.8022" stroke="#15161b" stroke-width="3.3" stroke-linecap="round"/><path d="M1664.7,1115.3v16.7317" stroke="#15161b" stroke-width="3.3" stroke-linecap="round"/><path d="M1698.1,1121.8v14.8727" stroke="#15161b" stroke-width="3.3" stroke-linecap="round"/><path d="M1713.0,1124.6v17.6613" stroke="#15161b" stroke-width="3.3" stroke-linecap="round"/><circle cx="1647.9" cy="1128.3" r="1.8" fill="#3a5ad0" /><circle cx="1659.1" cy="1130.2" r="1.8" fill="#3a5ad0" /><ellipse cx="1697.2" cy="1148.8" rx="11.5" ry="8.5" fill="#101116" /><ellipse cx="1697.2" cy="1146.3" rx="10.5" ry="6.5" fill="#24262d" /><circle cx="1451.2" cy="1112.9" r="1.7" fill="#3f6fc8" /><circle cx="1456.8" cy="1110.3" r="1.6" fill="#8a2f2a" /><path d="M1441.9,1118.8L1413.7,1136.7" stroke="#3a3d46" stroke-width=".8"/><rect x="1445.5" y="1114.8" width="3.3" height="2.8" fill="#f6f6fa" /><rect x="1450" y="1115.7" width="3.3" height="2.8" fill="#f6f6fa" /><rect x="1439.5" y="1118.6" width="3.3" height="2.8" fill="#f6f6fa" /><rect x="1444" y="1119.5" width="3.3" height="2.8" fill="#f6f6fa" /><rect x="1433.5" y="1122.4" width="3.3" height="2.8" fill="#f6f6fa" /><rect x="1437.9" y="1123.4" width="3.3" height="2.8" fill="#f6f6fa" /><polygon points="1410.7,1131.7 1416.7,1132.7 1416.9,1141.7 1410.9,1140.7" fill="#d0d3dc" stroke="#6c707c" stroke-width=".7"/><circle cx="1461.4" cy="1115.2" r="1.7" fill="#3f6fc8" /><circle cx="1467" cy="1112.6" r="1.6" fill="#8a2f2a" /><path d="M1452.1,1121.3L1424.0,1139.3" stroke="#3a3d46" stroke-width=".8"/><rect x="1455.7" y="1117.2" width="3.3" height="2.8" fill="#f6f6fa" /><rect x="1460.1" y="1118.1" width="3.3" height="2.8" fill="#f6f6fa" /><rect x="1449.7" y="1121.1" width="3.3" height="2.8" fill="#f6f6fa" /><rect x="1454.2" y="1122" width="3.3" height="2.8" fill="#f6f6fa" /><rect x="1443.7" y="1124.9" width="3.3" height="2.8" fill="#f6f6fa" /><rect x="1448.2" y="1125.8" width="3.3" height="2.8" fill="#f6f6fa" /><polygon points="1421,1134.3 1427,1135.3 1427.2,1144.3 1421.2,1143.3" fill="#d0d3dc" stroke="#6c707c" stroke-width=".7"/><circle cx="1471.6" cy="1117.6" r="1.7" fill="#3f6fc8" /><circle cx="1477.1" cy="1115" r="1.6" fill="#8a2f2a" /><path d="M1462.2,1123.7L1434.3,1142.0" stroke="#3a3d46" stroke-width=".8"/><rect x="1465.9" y="1119.6" width="3.3" height="2.8" fill="#f6f6fa" /><rect x="1470.3" y="1120.5" width="3.3" height="2.8" fill="#f6f6fa" /><rect x="1459.9" y="1123.5" width="3.3" height="2.8" fill="#f6f6fa" /><rect x="1464.4" y="1124.4" width="3.3" height="2.8" fill="#f6f6fa" /><rect x="1453.9" y="1127.4" width="3.3" height="2.8" fill="#f6f6fa" /><rect x="1458.4" y="1128.3" width="3.3" height="2.8" fill="#f6f6fa" /><polygon points="1431.3,1137 1437.3,1138 1437.5,1147 1431.5,1146" fill="#d0d3dc" stroke="#6c707c" stroke-width=".7"/><circle cx="1481.7" cy="1120" r="1.7" fill="#3f6fc8" /><circle cx="1487.3" cy="1117.3" r="1.6" fill="#8a2f2a" /><path d="M1472.4,1126.1L1444.7,1144.6" stroke="#3a3d46" stroke-width=".8"/><rect x="1476" y="1122" width="3.3" height="2.8" fill="#f6f6fa" /><rect x="1480.5" y="1122.9" width="3.3" height="2.8" fill="#f6f6fa" /><rect x="1470.1" y="1125.9" width="3.3" height="2.8" fill="#f6f6fa" /><rect x="1474.6" y="1126.9" width="3.3" height="2.8" fill="#f6f6fa" /><rect x="1464.2" y="1129.9" width="3.3" height="2.8" fill="#f6f6fa" /><rect x="1468.6" y="1130.8" width="3.3" height="2.8" fill="#f6f6fa" /><polygon points="1441.7,1139.6 1447.7,1140.6 1447.9,1149.6 1441.9,1148.6" fill="#d0d3dc" stroke="#6c707c" stroke-width=".7"/><circle cx="1491.9" cy="1122.3" r="1.7" fill="#3f6fc8" /><circle cx="1497.4" cy="1119.7" r="1.6" fill="#8a2f2a" /><path d="M1482.6,1128.5L1455.0,1147.2" stroke="#3a3d46" stroke-width=".8"/><rect x="1486.2" y="1124.4" width="3.3" height="2.8" fill="#f6f6fa" /><rect x="1490.7" y="1125.3" width="3.3" height="2.8" fill="#f6f6fa" /><rect x="1480.3" y="1128.4" width="3.3" height="2.8" fill="#f6f6fa" /><rect x="1484.8" y="1129.3" width="3.3" height="2.8" fill="#f6f6fa" /><rect x="1474.4" y="1132.4" width="3.3" height="2.8" fill="#f6f6fa" /><rect x="1478.9" y="1133.3" width="3.3" height="2.8" fill="#f6f6fa" /><polygon points="1452,1142.2 1458,1143.2 1458.2,1152.2 1452.2,1151.2" fill="#d0d3dc" stroke="#6c707c" stroke-width=".7"/><circle cx="1502" cy="1124.7" r="1.7" fill="#3f6fc8" /><circle cx="1507.6" cy="1122.1" r="1.6" fill="#8a2f2a" /><path d="M1492.8,1131.0L1465.3,1149.9" stroke="#3a3d46" stroke-width=".8"/><rect x="1496.4" y="1126.8" width="3.3" height="2.8" fill="#f6f6fa" /><rect x="1500.9" y="1127.7" width="3.3" height="2.8" fill="#f6f6fa" /><rect x="1490.5" y="1130.8" width="3.3" height="2.8" fill="#f6f6fa" /><rect x="1495" y="1131.8" width="3.3" height="2.8" fill="#f6f6fa" /><rect x="1484.6" y="1134.9" width="3.3" height="2.8" fill="#f6f6fa" /><rect x="1489.1" y="1135.8" width="3.3" height="2.8" fill="#f6f6fa" /><polygon points="1462.3,1144.9 1468.3,1145.9 1468.5,1154.9 1462.5,1153.9" fill="#d0d3dc" stroke="#6c707c" stroke-width=".7"/><circle cx="1512.2" cy="1127" r="1.7" fill="#3f6fc8" /><circle cx="1517.8" cy="1124.4" r="1.6" fill="#8a2f2a" /><path d="M1503.0,1133.4L1475.6,1152.5" stroke="#3a3d46" stroke-width=".8"/><rect x="1506.6" y="1129.2" width="3.3" height="2.8" fill="#f6f6fa" /><rect x="1511" y="1130.1" width="3.3" height="2.8" fill="#f6f6fa" /><rect x="1500.7" y="1133.3" width="3.3" height="2.8" fill="#f6f6fa" /><rect x="1505.2" y="1134.2" width="3.3" height="2.8" fill="#f6f6fa" /><rect x="1494.9" y="1137.4" width="3.3" height="2.8" fill="#f6f6fa" /><rect x="1499.3" y="1138.3" width="3.3" height="2.8" fill="#f6f6fa" /><polygon points="1472.6,1147.5 1478.6,1148.5 1478.8,1157.5 1472.8,1156.5" fill="#d0d3dc" stroke="#6c707c" stroke-width=".7"/><circle cx="1522.3" cy="1129.4" r="1.7" fill="#3f6fc8" /><circle cx="1527.9" cy="1126.8" r="1.6" fill="#8a2f2a" /><path d="M1513.2,1135.8L1485.9,1155.2" stroke="#3a3d46" stroke-width=".8"/><rect x="1516.8" y="1131.6" width="3.3" height="2.8" fill="#f6f6fa" /><rect x="1521.2" y="1132.5" width="3.3" height="2.8" fill="#f6f6fa" /><rect x="1510.9" y="1135.7" width="3.3" height="2.8" fill="#f6f6fa" /><rect x="1515.4" y="1136.6" width="3.3" height="2.8" fill="#f6f6fa" /><rect x="1505.1" y="1139.8" width="3.3" height="2.8" fill="#f6f6fa" /><rect x="1509.6" y="1140.8" width="3.3" height="2.8" fill="#f6f6fa" /><polygon points="1482.9,1150.2 1488.9,1151.2 1489.1,1160.2 1483.1,1159.2" fill="#d0d3dc" stroke="#6c707c" stroke-width=".7"/><circle cx="1532.5" cy="1131.7" r="1.7" fill="#3f6fc8" /><circle cx="1538.1" cy="1129.1" r="1.6" fill="#8a2f2a" /><path d="M1523.4,1138.3L1496.3,1157.8" stroke="#3a3d46" stroke-width=".8"/><rect x="1526.9" y="1134" width="3.3" height="2.8" fill="#f6f6fa" /><rect x="1531.4" y="1134.9" width="3.3" height="2.8" fill="#f6f6fa" /><rect x="1521.1" y="1138.2" width="3.3" height="2.8" fill="#f6f6fa" /><rect x="1525.6" y="1139.1" width="3.3" height="2.8" fill="#f6f6fa" /><rect x="1515.3" y="1142.3" width="3.3" height="2.8" fill="#f6f6fa" /><rect x="1519.8" y="1143.3" width="3.3" height="2.8" fill="#f6f6fa" /><polygon points="1493.3,1152.8 1499.3,1153.8 1499.5,1162.8 1493.5,1161.8" fill="#d0d3dc" stroke="#6c707c" stroke-width=".7"/><circle cx="1542.6" cy="1134.1" r="1.7" fill="#3f6fc8" /><circle cx="1548.2" cy="1131.5" r="1.6" fill="#8a2f2a" /><path d="M1533.6,1140.7L1506.6,1160.4" stroke="#3a3d46" stroke-width=".8"/><rect x="1537.1" y="1136.4" width="3.3" height="2.8" fill="#f6f6fa" /><rect x="1541.6" y="1137.3" width="3.3" height="2.8" fill="#f6f6fa" /><rect x="1531.3" y="1140.6" width="3.3" height="2.8" fill="#f6f6fa" /><rect x="1535.8" y="1141.5" width="3.3" height="2.8" fill="#f6f6fa" /><rect x="1525.6" y="1144.8" width="3.3" height="2.8" fill="#f6f6fa" /><rect x="1530" y="1145.7" width="3.3" height="2.8" fill="#f6f6fa" /><polygon points="1503.6,1155.4 1509.6,1156.4 1509.8,1165.4 1503.8,1164.4" fill="#d0d3dc" stroke="#6c707c" stroke-width=".7"/><circle cx="1552.8" cy="1136.5" r="1.7" fill="#3f6fc8" /><circle cx="1558.4" cy="1133.9" r="1.6" fill="#8a2f2a" /><path d="M1543.8,1143.1L1516.9,1163.1" stroke="#3a3d46" stroke-width=".8"/><rect x="1547.3" y="1138.8" width="3.3" height="2.8" fill="#f6f6fa" /><rect x="1551.8" y="1139.7" width="3.3" height="2.8" fill="#f6f6fa" /><rect x="1541.6" y="1143" width="3.3" height="2.8" fill="#f6f6fa" /><rect x="1546" y="1144" width="3.3" height="2.8" fill="#f6f6fa" /><rect x="1535.8" y="1147.3" width="3.3" height="2.8" fill="#f6f6fa" /><rect x="1540.3" y="1148.2" width="3.3" height="2.8" fill="#f6f6fa" /><polygon points="1513.9,1158.1 1519.9,1159.1 1520.1,1168.1 1514.1,1167.1" fill="#d0d3dc" stroke="#6c707c" stroke-width=".7"/><circle cx="1563" cy="1138.8" r="1.7" fill="#3f6fc8" /><circle cx="1568.5" cy="1136.2" r="1.6" fill="#8a2f2a" /><path d="M1554.0,1145.5L1527.2,1165.7" stroke="#3a3d46" stroke-width=".8"/><rect x="1557.5" y="1141.2" width="3.3" height="2.8" fill="#f6f6fa" /><rect x="1561.9" y="1142.1" width="3.3" height="2.8" fill="#f6f6fa" /><rect x="1551.8" y="1145.5" width="3.3" height="2.8" fill="#f6f6fa" /><rect x="1556.2" y="1146.4" width="3.3" height="2.8" fill="#f6f6fa" /><rect x="1546" y="1149.8" width="3.3" height="2.8" fill="#f6f6fa" /><rect x="1550.5" y="1150.7" width="3.3" height="2.8" fill="#f6f6fa" /><polygon points="1524.2,1160.7 1530.2,1161.7 1530.4,1170.7 1524.4,1169.7" fill="#d0d3dc" stroke="#6c707c" stroke-width=".7"/><circle cx="1573.1" cy="1141.2" r="1.7" fill="#3f6fc8" /><circle cx="1578.7" cy="1138.6" r="1.6" fill="#8a2f2a" /><path d="M1564.2,1148.0L1537.6,1168.4" stroke="#3a3d46" stroke-width=".8"/><rect x="1567.7" y="1143.6" width="3.3" height="2.8" fill="#f6f6fa" /><rect x="1572.1" y="1144.5" width="3.3" height="2.8" fill="#f6f6fa" /><rect x="1562" y="1147.9" width="3.3" height="2.8" fill="#f6f6fa" /><rect x="1566.4" y="1148.9" width="3.3" height="2.8" fill="#f6f6fa" /><rect x="1556.3" y="1152.3" width="3.3" height="2.8" fill="#f6f6fa" /><rect x="1560.7" y="1153.2" width="3.3" height="2.8" fill="#f6f6fa" /><polygon points="1534.6,1163.4 1540.6,1164.4 1540.8,1173.4 1534.8,1172.4" fill="#d0d3dc" stroke="#6c707c" stroke-width=".7"/><circle cx="1583.3" cy="1143.5" r="1.7" fill="#3f6fc8" /><circle cx="1588.9" cy="1140.9" r="1.6" fill="#8a2f2a" /><path d="M1574.4,1150.4L1547.9,1171.0" stroke="#3a3d46" stroke-width=".8"/><rect x="1577.8" y="1146" width="3.3" height="2.8" fill="#f6f6fa" /><rect x="1582.3" y="1146.9" width="3.3" height="2.8" fill="#f6f6fa" /><rect x="1572.2" y="1150.4" width="3.3" height="2.8" fill="#f6f6fa" /><rect x="1576.6" y="1151.3" width="3.3" height="2.8" fill="#f6f6fa" /><rect x="1566.5" y="1154.8" width="3.3" height="2.8" fill="#f6f6fa" /><rect x="1571" y="1155.7" width="3.3" height="2.8" fill="#f6f6fa" /><polygon points="1544.9,1166 1550.9,1167 1551.1,1176 1545.1,1175" fill="#d0d3dc" stroke="#6c707c" stroke-width=".7"/><circle cx="1593.4" cy="1145.9" r="1.7" fill="#3f6fc8" /><circle cx="1599" cy="1143.3" r="1.6" fill="#8a2f2a" /><path d="M1584.6,1152.8L1558.2,1173.7" stroke="#3a3d46" stroke-width=".8"/><rect x="1588" y="1148.4" width="3.3" height="2.8" fill="#f6f6fa" /><rect x="1592.5" y="1149.3" width="3.3" height="2.8" fill="#f6f6fa" /><rect x="1582.4" y="1152.8" width="3.3" height="2.8" fill="#f6f6fa" /><rect x="1586.8" y="1153.7" width="3.3" height="2.8" fill="#f6f6fa" /><rect x="1576.7" y="1157.3" width="3.3" height="2.8" fill="#f6f6fa" /><rect x="1581.2" y="1158.2" width="3.3" height="2.8" fill="#f6f6fa" /><polygon points="1555.2,1168.7 1561.2,1169.7 1561.4,1178.7 1555.4,1177.7" fill="#d0d3dc" stroke="#6c707c" stroke-width=".7"/><circle cx="1603.6" cy="1148.2" r="1.7" fill="#3f6fc8" /><circle cx="1609.2" cy="1145.6" r="1.6" fill="#8a2f2a" /><path d="M1594.8,1155.3L1568.5,1176.3" stroke="#3a3d46" stroke-width=".8"/><rect x="1598.2" y="1150.8" width="3.3" height="2.8" fill="#f6f6fa" /><rect x="1602.7" y="1151.7" width="3.3" height="2.8" fill="#f6f6fa" /><rect x="1592.6" y="1155.3" width="3.3" height="2.8" fill="#f6f6fa" /><rect x="1597" y="1156.2" width="3.3" height="2.8" fill="#f6f6fa" /><rect x="1587" y="1159.8" width="3.3" height="2.8" fill="#f6f6fa" /><rect x="1591.4" y="1160.7" width="3.3" height="2.8" fill="#f6f6fa" /><polygon points="1565.5,1171.3 1571.5,1172.3 1571.7,1181.3 1565.7,1180.3" fill="#d0d3dc" stroke="#6c707c" stroke-width=".7"/><circle cx="1613.7" cy="1150.6" r="1.7" fill="#3f6fc8" /><circle cx="1619.3" cy="1148" r="1.6" fill="#8a2f2a" /><path d="M1605.0,1157.7L1578.9,1178.9" stroke="#3a3d46" stroke-width=".8"/><rect x="1608.4" y="1153.2" width="3.3" height="2.8" fill="#f6f6fa" /><rect x="1612.8" y="1154.1" width="3.3" height="2.8" fill="#f6f6fa" /><rect x="1602.8" y="1157.7" width="3.3" height="2.8" fill="#f6f6fa" /><rect x="1607.3" y="1158.6" width="3.3" height="2.8" fill="#f6f6fa" /><rect x="1597.2" y="1162.2" width="3.3" height="2.8" fill="#f6f6fa" /><rect x="1601.7" y="1163.2" width="3.3" height="2.8" fill="#f6f6fa" /><polygon points="1575.9,1173.9 1581.9,1174.9 1582.1,1183.9 1576.1,1182.9" fill="#d0d3dc" stroke="#6c707c" stroke-width=".7"/><circle cx="1623.9" cy="1153" r="1.7" fill="#3f6fc8" /><circle cx="1629.5" cy="1150.4" r="1.6" fill="#8a2f2a" /><path d="M1615.2,1160.1L1589.2,1181.6" stroke="#3a3d46" stroke-width=".8"/><rect x="1618.6" y="1155.6" width="3.3" height="2.8" fill="#f6f6fa" /><rect x="1623" y="1156.5" width="3.3" height="2.8" fill="#f6f6fa" /><rect x="1613" y="1160.1" width="3.3" height="2.8" fill="#f6f6fa" /><rect x="1617.5" y="1161.1" width="3.3" height="2.8" fill="#f6f6fa" /><rect x="1607.4" y="1164.7" width="3.3" height="2.8" fill="#f6f6fa" /><rect x="1611.9" y="1165.7" width="3.3" height="2.8" fill="#f6f6fa" /><polygon points="1586.2,1176.6 1592.2,1177.6 1592.4,1186.6 1586.4,1185.6" fill="#d0d3dc" stroke="#6c707c" stroke-width=".7"/><circle cx="1634.1" cy="1155.3" r="1.7" fill="#3f6fc8" /><circle cx="1639.6" cy="1152.7" r="1.6" fill="#8a2f2a" /><path d="M1625.4,1162.5L1599.5,1184.2" stroke="#3a3d46" stroke-width=".8"/><rect x="1628.7" y="1158" width="3.3" height="2.8" fill="#f6f6fa" /><rect x="1633.2" y="1158.9" width="3.3" height="2.8" fill="#f6f6fa" /><rect x="1623.2" y="1162.6" width="3.3" height="2.8" fill="#f6f6fa" /><rect x="1627.7" y="1163.5" width="3.3" height="2.8" fill="#f6f6fa" /><rect x="1617.7" y="1167.2" width="3.3" height="2.8" fill="#f6f6fa" /><rect x="1622.1" y="1168.1" width="3.3" height="2.8" fill="#f6f6fa" /><polygon points="1596.5,1179.2 1602.5,1180.2 1602.7,1189.2 1596.7,1188.2" fill="#d0d3dc" stroke="#6c707c" stroke-width=".7"/><circle cx="1644.2" cy="1157.7" r="1.7" fill="#3f6fc8" /><circle cx="1649.8" cy="1155.1" r="1.6" fill="#8a2f2a" /><path d="M1635.6,1165.0L1609.8,1186.9" stroke="#3a3d46" stroke-width=".8"/><rect x="1638.9" y="1160.4" width="3.3" height="2.8" fill="#f6f6fa" /><rect x="1643.4" y="1161.3" width="3.3" height="2.8" fill="#f6f6fa" /><rect x="1633.4" y="1165" width="3.3" height="2.8" fill="#f6f6fa" /><rect x="1637.9" y="1166" width="3.3" height="2.8" fill="#f6f6fa" /><rect x="1627.9" y="1169.7" width="3.3" height="2.8" fill="#f6f6fa" /><rect x="1632.4" y="1170.6" width="3.3" height="2.8" fill="#f6f6fa" /><polygon points="1606.8,1181.9 1612.8,1182.9 1613,1191.9 1607,1190.9" fill="#d0d3dc" stroke="#6c707c" stroke-width=".7"/><circle cx="1665.6" cy="1161.8" r="1.7" fill="#3f6fc8" /><circle cx="1671.2" cy="1159.2" r="1.6" fill="#8a2f2a" /><path d="M1660.4,1166.2L1631.2,1191.5" stroke="#3a3d46" stroke-width=".8"/><polygon points="1628.2,1186.5 1634.2,1187.5 1634.4,1196.5 1628.4,1195.5" fill="#d0d3dc" stroke="#6c707c" stroke-width=".7"/><circle cx="1678.1" cy="1164.8" r="1.7" fill="#3f6fc8" /><circle cx="1683.7" cy="1162.2" r="1.6" fill="#8a2f2a" /><path d="M1673.2,1169.4L1645.1,1195.2" stroke="#3a3d46" stroke-width=".8"/><polygon points="1642.1,1190.2 1648.1,1191.2 1648.3,1200.2 1642.3,1199.2" fill="#d0d3dc" stroke="#6c707c" stroke-width=".7"/><circle cx="1690.7" cy="1167.9" r="1.7" fill="#3f6fc8" /><circle cx="1696.3" cy="1165.3" r="1.6" fill="#8a2f2a" /><path d="M1686.0,1172.6L1659.1,1199.0" stroke="#3a3d46" stroke-width=".8"/><polygon points="1656.1,1194 1662.1,1195 1662.3,1204 1656.3,1203" fill="#d0d3dc" stroke="#6c707c" stroke-width=".7"/><polygon points="2408.5,1081.8 2489.2,1068.8 2499,1143.3 2422.7,1161.8" fill="#3b3e46" stroke="#24262b" stroke-width="1.2" stroke-linejoin="round"/><polygon points="2412.4,1086.6 2485.9,1074.6 2494.2,1140 2425.3,1157.5" fill="#f2f3f5" /><polygon points="2428.8,1094.3 2436.9,1092.9 2437.9,1099.7 2429.9,1101.2" fill="#46b4a6" /><polygon points="2432.5,1110.6 2440.6,1109.1 2443,1128 2434.9,1129.8" fill="#46b4a6" /><polygon points="2453.2,1088.8 2460.2,1087.7 2461.9,1099.7 2454.9,1101" fill="#d97a98" /><polygon points="2465.8,1104.1 2472.4,1103 2474.6,1118.2 2468,1119.8" fill="#d97a98" /><polygon points="2420.5,1094.3 2425.3,1093.4 2425.7,1096.9 2420.9,1097.7" fill="#9aa0a8" /><polygon points="2422.7,1104.1 2427.5,1103.2 2427.9,1106.7 2423.1,1107.5" fill="#9aa0a8" /><polygon points="2439,1103 2443.8,1102.1 2444.3,1105.6 2439.5,1106.5" fill="#9aa0a8" /><polygon points="2445.6,1105.2 2450.4,1104.3 2450.8,1107.8 2446,1108.6" fill="#9aa0a8" /><polygon points="2464.1,1088.8 2468.9,1087.9 2469.3,1091.4 2464.5,1092.3" fill="#9aa0a8" /><polygon points="2453.2,1110.6 2458,1109.7 2458.4,1113.2 2453.6,1114.1" fill="#9aa0a8" /><polygon points="2455.4,1119.3 2460.2,1118.4 2460.6,1121.9 2455.8,1122.8" fill="#9aa0a8" /><polygon points="2461.9,1112.8 2466.7,1111.9 2467.1,1115.4 2462.3,1116.3" fill="#9aa0a8" /><polygon points="2478.3,1077.9 2485.4,1076.6 2489.8,1113.9 2482.6,1115.4" fill="#6b6f77" /><polygon points="2478.9,1079.7 2485,1078.6 2486.1,1091 2480,1092.3" fill="#b0505a" /><path d="M2420.5,1133.5L2491.3,1119.3" stroke="#9aa0aa" stroke-width=".9"/><path d="M2466.3,1129.1L2491.3,1124.1" stroke="#555" stroke-width=".8" stroke-dasharray="3 1.5"/><path d="M2466.3,1133.9L2491.3,1128.9" stroke="#555" stroke-width=".8" stroke-dasharray="3 1.5"/><path d="M2466.3,1138.7L2491.3,1133.7" stroke="#555" stroke-width=".8" stroke-dasharray="3 1.5"/><path d="M2466.3,1143.5L2491.3,1138.5" stroke="#555" stroke-width=".8" stroke-dasharray="3 1.5"/><polygon points="2422.7,1161.8 2499,1143.3 2534.9,1179.2 2451,1204.3" fill="#a6aaaf" stroke="#6e7278" stroke-width=".8" stroke-linejoin="round"/><polygon points="2451,1204.3 2534.9,1179.2 2535.3,1182.9 2451.9,1208.7" fill="#54585e" /><polygon points="2430.3,1166.2 2496.8,1149.4 2517.5,1170.5 2447.1,1189.5" fill="#222328" /><polygon points="2430.3,1166.2 2496.8,1149.4 2517.5,1170.5 2447.1,1189.5" fill="url(#keys)" /><polygon points="2472.8,1180.3 2496.8,1173.8 2502.2,1179.9 2477.6,1186.9" fill="#2c2e34" stroke="#50545a" stroke-width=".6"/><polygon points="2424.9,1162.9 2498.3,1145 2499.4,1146.8 2426.2,1164.6" fill="#2a2c31" /><path d="M2119,1317V1301Q2119,1294 2127,1294H2156Q2164,1294 2164,1301V1317Z" fill="#e4e5e8" stroke="#b8babf" stroke-width="1"/><path d="M2124,1300L2132,1312M2132,1300L2124,1312M2151,1300L2159,1312M2159,1300L2151,1312" stroke="#c4c6cb" stroke-width="1.5"/><rect x="2116" y="1317.4" width="51.5" height="80.6" fill="#54575e" rx="5"/><rect x="2120" y="1328.5" width="40.5" height="23.5" fill="#16161a" rx="2"/><rect x="2122.5" y="1331" width="35.5" height="18.5" fill="#ee8a22" /><rect x="2124" y="1334" width="32" height="1.3" fill="#b85a10" /><rect x="2124" y="1338" width="32" height="1.3" fill="#b85a10" /><rect x="2124" y="1342" width="32" height="1.3" fill="#b85a10" /><rect x="2124" y="1346" width="32" height="1.3" fill="#b85a10" /><rect x="2164" y="1330" width="4.5" height="16" fill="#7a7d84" /><circle cx="2134" cy="1366" r="3.6" fill="#2a2c31" /><circle cx="2146" cy="1364" r="3.6" fill="#2a2c31" /><circle cx="2128" cy="1376" r="3.6" fill="#2a2c31" /><circle cx="2140" cy="1375" r="3.6" fill="#2a2c31" /><circle cx="2152" cy="1374" r="3.6" fill="#2a2c31" /><circle cx="2122" cy="1366" r="1.8" fill="#cfd0d4" /><circle cx="2160" cy="1364" r="1.8" fill="#cfd0d4" /><rect x="2130" y="1388" width="24" height="3" fill="#6e7178" /><path d="M685.4,1449.7L690.0,1445.2L771.6,1435.2L786.2,1449.7L788.0,1455.2Q778.9,1466.1 751.7,1476.1Q715.4,1480.6 697.2,1473.3L686.3,1458.8Z" fill="#1d1e24"/><path d="M710.8,1455.2L774.4,1437.0L785.2,1450.7Q778.9,1460.6 749.9,1469.7L717.2,1472.4Z" fill="#9a9ba8"/><path d="M702.7,1445.8L703.4,1423.4C707.2,1407.1 724.4,1399.8 743.5,1400.2C758.9,1400.7 769.8,1407.1 773.1,1419.8L774.9,1435.6L719.4,1449.4Z" fill="url(#grille)" stroke="#80808a" stroke-width=".6"/><polygon points="719.9,1445.2 762.6,1435.2 763.5,1439.2 720.8,1449.7" fill="#e6e6ec" /><rect x="745.5" y="1460.8" width="17" height="7.5" fill="#a8a9b4" rx="3" stroke="#444" stroke-width=".8"/><rect x="720.8" y="1459.7" width="5" height="1.2" fill="#55566a" /><rect x="729.9" y="1457.7" width="5" height="1.2" fill="#55566a" /><rect x="739" y="1455.7" width="5" height="1.2" fill="#55566a" /><rect x="748" y="1453.7" width="5" height="1.2" fill="#55566a" /><rect x="757.1" y="1451.7" width="5" height="1.2" fill="#55566a" /><path d="M697.2,1450.7L698.7,1418.9Q706.3,1397.1 749.9,1337.2" fill="none" stroke="#18181c" stroke-width="3" stroke-linecap="round"/><ellipse cx="752.0" cy="1335.4" rx="6.5" ry="8" fill="#141418" transform="rotate(32 752.0 1335.4)"/><circle cx="743.5" cy="1347.2" r="1.6" fill="#a02030" /><rect x="687.2" y="1447.9" width="14" height="14" fill="#15161a" /><path d="M960.4,1451.8L964.6,1447.5L1041.0,1438.2L1054.6,1451.8L1056.3,1456.8Q1047.8,1467.0 1022.3,1476.4Q988.4,1480.6 971.4,1473.8L961.2,1460.2Z" fill="#1d1e24"/><path d="M984.1,1456.8L1043.5,1439.9L1053.7,1452.6Q1047.8,1461.9 1020.6,1470.4L990.1,1473.0Z" fill="#9a9ba8"/><path d="M976.5,1448.0L977.2,1427.1C980.7,1411.9 996.9,1405.1 1014.7,1405.4C1029.1,1405.9 1039.3,1411.9 1042.3,1423.8L1044.0,1438.5L992.1,1451.4Z" fill="url(#grille)" stroke="#80808a" stroke-width=".6"/><polygon points="992.6,1447.5 1032.5,1438.2 1033.3,1441.9 993.5,1451.8" fill="#e6e6ec" /><rect x="1010.9" y="1460.5" width="17" height="8" fill="#e8e8ee" rx="3" stroke="#667" stroke-width=".6"/><rect x="1011.9" y="1461.5" width="8" height="6" fill="#d8222a" rx="1.5"/><path d="M971.4,1452.6L972.8,1422.9Q979.9,1402.5 1020.6,1346.5" fill="none" stroke="#18181c" stroke-width="3" stroke-linecap="round"/><ellipse cx="1022.7" cy="1344.8" rx="6.5" ry="8" fill="#141418" transform="rotate(32 1022.7 1344.8)"/><circle cx="1014.7" cy="1355.9" r="1.6" fill="#a02030" /><rect x="962.1" y="1450.1" width="14" height="14" fill="#15161a" /><polygon points="1488,1411 1717.6,1411 1742,1416.5 1468,1416.5" fill="#0e0e12" /><rect x="1454.6" y="1416" width="302" height="55.6" fill="url(#dmsf)" rx="1.5"/><path d="M1617,1425.1H1756.6V1464.3H1617A19.6,19.6 0 0 1 1617,1425.1Z" fill="#2da3db"/><circle cx="1617.5" cy="1442.7" r="9.3" fill="none" stroke="#153a5a" stroke-width="1.6" stroke-dasharray="1.2 1.4"/><circle cx="1617.5" cy="1442.7" r="7.6" fill="url(#knob)" /><rect x="1612.5" y="1428.5" width="10" height="2" fill="#bfe2f4" opacity=".8"/><circle cx="1642.8" cy="1442.7" r="9.3" fill="none" stroke="#153a5a" stroke-width="1.6" stroke-dasharray="1.2 1.4"/><circle cx="1642.8" cy="1442.7" r="7.6" fill="url(#knob)" /><rect x="1637.8" y="1428.5" width="10" height="2" fill="#bfe2f4" opacity=".8"/><circle cx="1667.9" cy="1442.7" r="9.3" fill="none" stroke="#153a5a" stroke-width="1.6" stroke-dasharray="1.2 1.4"/><circle cx="1667.9" cy="1442.7" r="7.6" fill="url(#knob)" /><rect x="1662.9" y="1428.5" width="10" height="2" fill="#bfe2f4" opacity=".8"/><circle cx="1692.7" cy="1442.7" r="9.3" fill="none" stroke="#153a5a" stroke-width="1.6" stroke-dasharray="1.2 1.4"/><circle cx="1692.7" cy="1442.7" r="7.6" fill="url(#knob)" /><rect x="1687.7" y="1428.5" width="10" height="2" fill="#bfe2f4" opacity=".8"/><circle cx="1717.6" cy="1442.7" r="9.3" fill="none" stroke="#153a5a" stroke-width="1.6" stroke-dasharray="1.2 1.4"/><circle cx="1717.6" cy="1442.7" r="7.6" fill="url(#knob)" /><rect x="1712.6" y="1428.5" width="10" height="2" fill="#bfe2f4" opacity=".8"/><rect x="1466.3" y="1424" width="14.6" height="41.7" fill="#7c828c" /><rect x="1468.3" y="1426" width="4.5" height="37.7" fill="#9aa0aa" /><rect x="1732.4" y="1424" width="14.6" height="41.7" fill="#7c828c" /><rect x="1734.4" y="1426" width="4.5" height="37.7" fill="#9aa0aa" /><rect x="1499.6" y="1434.8" width="16.1" height="19" fill="#101014" /><rect x="1503" y="1438" width="9.3" height="12.5" fill="#26262c" /><text x="1498.5" y="1458.5" font-family="Liberation Sans,sans-serif" font-weight="bold" font-size="3.6" fill="#223">POWER</text><rect x="1550.3" y="1428.9" width="38.4" height="10.8" fill="#5dae3c" stroke="#3a5a30" stroke-width=".6"/><circle cx="1553.7" cy="1453.3" r="3.6" fill="#eef2f6" stroke="#8ea0b4" stroke-width=".8"/><circle cx="1569.3" cy="1453.3" r="3.6" fill="#eef2f6" stroke="#8ea0b4" stroke-width=".8"/><circle cx="1585" cy="1453.3" r="3.6" fill="#eef2f6" stroke="#8ea0b4" stroke-width=".8"/><text x="1549" y="1462" font-family="Liberation Sans,sans-serif" font-weight="bold" font-size="3.5" fill="#334">MODE  NUMBER  SAVE</text><text x="1491" y="1424.8" font-family="Liberation Sans,sans-serif" font-weight="bold" font-size="7.4" fill="#15151a" textLength="39">C-MARK</text><rect x="1535" y="1422.3" width="52" height="1.2" fill="#6a7686" /><rect x="1457.5" y="1421.5" width="4.5" height="3" fill="#fff" /><rect x="1457.5" y="1462.5" width="4.5" height="3" fill="#fff" /><rect x="1749" y="1421.5" width="4.5" height="3" fill="#fff" /><rect x="1749" y="1462.5" width="4.5" height="3" fill="#fff" /><polygon points="1518.9,1530.8 1669.4,1530.8 1716.8,1553.6 1473.3,1553.6" fill="url(#top49)" /><rect x="1473.3" y="1553.4" width="243.5" height="21.2" fill="#3b3c41" /><rect x="1473.3" y="1573.6" width="243.5" height="1.6" fill="#bdbdc4" /><text x="1512.5" y="1561" font-family="Liberation Sans,sans-serif" font-weight="bold" font-size="4.4" fill="#e6e6ea">C-MARK</text><rect x="1531" y="1557.5" width="66" height="1.7" fill="#c4c4ca" /><rect x="1512.5" y="1562.5" width="11" height="1.8" fill="#c4c4ca" /><circle cx="1579" cy="1564" r="1" fill="#7ad08a" /><circle cx="1585.6" cy="1564" r="1" fill="#7ad08a" /><circle cx="1592.2" cy="1564" r="1" fill="#7ad08a" /><circle cx="1598.8" cy="1564" r="1" fill="#7ad08a" /><circle cx="1605.4" cy="1564" r="1" fill="#7ad08a" /><circle cx="1612" cy="1564" r="1" fill="#7ad08a" /><rect x="1497.5" y="1558" width="5" height="11" fill="#2a2b30" stroke="#88888e" stroke-width=".6"/><rect x="1475" y="1556" width="5.2" height="2.6" fill="#f2f2f4" /><rect x="1475" y="1569" width="5.2" height="2.6" fill="#f2f2f4" /><rect x="1709.5" y="1556" width="5.2" height="2.6" fill="#f2f2f4" /><rect x="1709.5" y="1569" width="5.2" height="2.6" fill="#f2f2f4" /><polygon points="1533.1,1662 1670.7,1662 1705.2,1673.5 1484.5,1673.5" fill="#55565c" /><rect x="1484.5" y="1673.2" width="220.7" height="41" fill="#8c8d95" /><rect x="1484.5" y="1673.2" width="220.7" height="1.2" fill="#a6a7ae" /><path d="M1541.5,1674V1714M1564,1674V1714" stroke="#7a7b83" stroke-width=".8"/><circle cx="1509.5" cy="1682" r="2.6" fill="#6c6d75" /><circle cx="1511" cy="1706.5" r="2.6" fill="#6c6d75" /><circle cx="1678" cy="1681" r="2.6" fill="#6c6d75" /><circle cx="1678" cy="1705.5" r="2.6" fill="#6c6d75" /><rect x="1486.5" y="1680.5" width="5" height="3" fill="#fff" /><rect x="1487.5" y="1704.5" width="5" height="3" fill="#fff" /><rect x="1697.5" y="1679" width="5" height="3" fill="#fff" /><rect x="1697.5" y="1703.5" width="5" height="3" fill="#fff" /><rect x="1516" y="1681.5" width="19" height="2" fill="#dcdce2" /><rect x="1516" y="1684.5" width="19" height="1.4" fill="#c4c4cc" /><circle cx="1546.5" cy="1685" r="1" fill="#444" /><circle cx="1546.5" cy="1689.5" r="1" fill="#444" /><circle cx="1546.5" cy="1699" r="1" fill="#444" /><circle cx="1547" cy="1703.5" r="1.8" fill="#111" /><rect x="1499.4" y="1715.1" width="193.4" height="36.2" fill="#1b1c21" /><circle cx="1510" cy="1730.5" r="2.1" fill="#d8c848" stroke="#888" stroke-width=".4"/><circle cx="1516.5" cy="1730.5" r="2.1" fill="#d8c848" stroke="#888" stroke-width=".4"/><circle cx="1525" cy="1730.5" r="2.1" fill="#d8c848" stroke="#888" stroke-width=".4"/><circle cx="1531.5" cy="1730.5" r="2.1" fill="#d8c848" stroke="#888" stroke-width=".4"/><circle cx="1538" cy="1730.5" r="2.1" fill="#d8c848" stroke="#888" stroke-width=".4"/><circle cx="1544.5" cy="1730.5" r="2.1" fill="#d8c848" stroke="#888" stroke-width=".4"/><circle cx="1510" cy="1737.3" r="2.1" fill="#e4e4e8" stroke="#888" stroke-width=".4"/><circle cx="1516.5" cy="1737.3" r="2.1" fill="#e4e4e8" stroke="#888" stroke-width=".4"/><circle cx="1525" cy="1737.3" r="2.1" fill="#e4e4e8" stroke="#888" stroke-width=".4"/><circle cx="1531.5" cy="1737.3" r="2.1" fill="#e4e4e8" stroke="#888" stroke-width=".4"/><circle cx="1538" cy="1737.3" r="2.1" fill="#e4e4e8" stroke="#888" stroke-width=".4"/><circle cx="1544.5" cy="1737.3" r="2.1" fill="#e4e4e8" stroke="#888" stroke-width=".4"/><circle cx="1510" cy="1744.1" r="2.1" fill="#c0504a" stroke="#888" stroke-width=".4"/><circle cx="1516.5" cy="1744.1" r="2.1" fill="#c0504a" stroke="#888" stroke-width=".4"/><circle cx="1525" cy="1744.1" r="2.1" fill="#c0504a" stroke="#888" stroke-width=".4"/><circle cx="1531.5" cy="1744.1" r="2.1" fill="#c0504a" stroke="#888" stroke-width=".4"/><circle cx="1538" cy="1744.1" r="2.1" fill="#c0504a" stroke="#888" stroke-width=".4"/><circle cx="1544.5" cy="1744.1" r="2.1" fill="#c0504a" stroke="#888" stroke-width=".4"/><rect x="1504" y="1723.2" width="45.5" height="1.6" fill="#c8c8cc" /><rect x="1554" y="1741" width="9" height="5" fill="#2a62c0" stroke="#cfcfd6" stroke-width=".6"/><rect x="1569.2" y="1741" width="9" height="5" fill="#2a62c0" stroke="#cfcfd6" stroke-width=".6"/><rect x="1584.4" y="1741" width="9" height="5" fill="#2a62c0" stroke="#cfcfd6" stroke-width=".6"/><rect x="1599.6" y="1741" width="9" height="5" fill="#2a62c0" stroke="#cfcfd6" stroke-width=".6"/><rect x="1614.8" y="1741" width="9" height="5" fill="#2a62c0" stroke="#cfcfd6" stroke-width=".6"/><rect x="1552.5" y="1737.5" width="75" height="1.6" fill="#c8c8cc" /><rect x="1560" y="1720.5" width="11" height="5.5" fill="#34363c" stroke="#aaa" stroke-width=".6"/><rect x="1575.5" y="1720.5" width="8" height="5.5" fill="#34363c" stroke="#aaa" stroke-width=".6"/><rect x="1587" y="1720.5" width="11" height="5.5" fill="#34363c" stroke="#aaa" stroke-width=".6"/><rect x="1602" y="1720.5" width="9" height="5.5" fill="#34363c" stroke="#aaa" stroke-width=".6"/><rect x="1562" y="1729.5" width="14" height="5" fill="#34363c" stroke="#aaa" stroke-width=".6"/><rect x="1580" y="1729.5" width="10" height="5" fill="#34363c" stroke="#aaa" stroke-width=".6"/><rect x="1593" y="1729.5" width="12" height="5" fill="#34363c" stroke="#aaa" stroke-width=".6"/><rect x="1553.5" y="1719.5" width="4.5" height="7" fill="#30323a" stroke="#999" stroke-width=".5"/><rect x="1553.5" y="1729.5" width="4.5" height="6" fill="#30323a" stroke="#999" stroke-width=".5"/><rect x="1612" y="1728.5" width="6.5" height="6" fill="#202226" stroke="#aaa" stroke-width=".6"/><rect x="1618" y="1720.3" width="56" height="8.2" fill="#2e9a58" /><rect x="1621" y="1722" width="0.8" height="5" fill="#1a6a3a" /><rect x="1625.15" y="1722" width="0.8" height="5" fill="#1a6a3a" /><rect x="1629.3" y="1722" width="0.8" height="5" fill="#1a6a3a" /><rect x="1633.45" y="1722" width="0.8" height="5" fill="#1a6a3a" /><rect x="1637.6" y="1722" width="0.8" height="5" fill="#1a6a3a" /><rect x="1641.75" y="1722" width="0.8" height="5" fill="#1a6a3a" /><rect x="1645.9" y="1722" width="0.8" height="5" fill="#1a6a3a" /><rect x="1650.05" y="1722" width="0.8" height="5" fill="#1a6a3a" /><rect x="1654.2" y="1722" width="0.8" height="5" fill="#1a6a3a" /><rect x="1658.35" y="1722" width="0.8" height="5" fill="#1a6a3a" /><rect x="1662.5" y="1722" width="0.8" height="5" fill="#1a6a3a" /><rect x="1666.65" y="1722" width="0.8" height="5" fill="#1a6a3a" /><rect x="1670.8" y="1722" width="0.8" height="5" fill="#1a6a3a" /><rect x="1678" y="1738" width="10" height="9" fill="#0c0c10" stroke="#333" stroke-width=".6"/><rect x="1644" y="1731" width="13" height="2.4" fill="#c8c8cc" /><circle cx="1641" cy="1742" r="3.2" fill="#0e0e12" stroke="#2c2c32" stroke-width=".6"/><circle cx="1659" cy="1742" r="3.2" fill="#0e0e12" stroke="#2c2c32" stroke-width=".6"/><polygon points="1559.2,1659.6 1618.7,1663.3 1605,1671.6 1560.4,1664" fill="#15151a" /><polygon points="1561,1655.5 1606,1660.5 1606,1666 1561,1660" fill="#c9cbd0" /><polygon points="1570.5,1627.6 1611,1625 1616,1630 1609,1657.6 1562.5,1655.5" fill="#d4d6da" stroke="#26262c" stroke-width="1.6" stroke-linejoin="round"/><polygon points="1572.5,1631 1602,1629.5 1596,1653.5 1566,1652" fill="#3f90c4" /><polygon points="1574.5,1631.5 1601,1630.2 1600.3,1633.3 1573.8,1634.6" fill="#1c1c22" /><rect x="1577" y="1636.5" width="19" height="2.6" fill="#f08c20" /><rect x="1574" y="1640.5" width="23" height="2.4" fill="#f08c20" /><rect x="1581" y="1644.5" width="8" height="2" fill="#f08c20" /><rect x="1573" y="1649.5" width="14" height="2" fill="#1c1c22" /><circle cx="1605.5" cy="1639" r="2.3" fill="#3a3c42" /><circle cx="1604" cy="1646.5" r="1.2" fill="#555" /><circle cx="1603.3" cy="1650.5" r="1.2" fill="#555" /><polygon points="1915,1689.7 2146,1689.7 2165.6,1722 1897,1722" fill="#5b6579" stroke="#49536a" stroke-width="1" stroke-linejoin="round"/><polygon points="1930,1696 1954,1696 1952.5,1705 1926.5,1705" fill="#4d576c" /><polygon points="1965.5,1696 1989.5,1696 1988.6,1705 1962.6,1705" fill="#4d576c" /><polygon points="2001,1696 2025,1696 2024.7,1705 1998.7,1705" fill="#4d576c" /><polygon points="2036.5,1696 2060.5,1696 2060.8,1705 2034.8,1705" fill="#4d576c" /><polygon points="2072,1696 2096,1696 2096.9,1705 2070.9,1705" fill="#4d576c" /><polygon points="2107.5,1696 2131.5,1696 2133,1705 2107,1705" fill="#4d576c" /><rect x="1897" y="1722" width="268.6" height="50.3" fill="#49546b" /><rect x="1897" y="1722" width="268.6" height="2.2" fill="#6e7890" /><polygon points="1897,1722 2165.6,1722 2165.6,1730 2155,1738 1897,1738" fill="#525d75" /><rect x="1914.5" y="1751.5" width="5.5" height="11" fill="#d02424" /><rect x="1920.5" y="1751.5" width="21.5" height="7.5" fill="#e2e2e8" /><rect x="1920.5" y="1760" width="21.5" height="2" fill="#c0c4cc" /><rect x="2103" y="1739.5" width="43" height="10.5" fill="#3c465c" rx="5"/><rect x="2132" y="1741" width="12" height="6.5" fill="#59647c" rx="1.5" stroke="#8a94aa" stroke-width=".6"/><circle cx="2113" cy="1745" r="2" fill="#222a38" /><circle cx="2124" cy="1745" r="1" fill="#cfd4e0" /><rect x="1496" y="1938" width="15" height="7" fill="#5a5d63" rx="2"/><rect x="1657" y="1951.5" width="16" height="7" fill="#5a5d63" rx="2"/><path d="M1486,1884Q1484,1880 1489,1877L1539.3,1854.8L1706,1861.3Q1714,1862 1714.2,1868L1715.3,1910.6L1675.7,1954L1488,1939.5Q1484.8,1939 1484.5,1934Z" fill="#4d5056"/><polygon points="1489,1877.5 1539.3,1854.8 1709,1861.6 1675.7,1888.3 1540,1882" fill="#5e6168" /><polygon points="1675.7,1888.3 1711,1863 1714.2,1868 1715.3,1910.6 1675.7,1954" fill="#43464c" /><polygon points="1687,1899 1697,1890.5 1697.5,1917 1687,1928" fill="#202226" /><path d="M1578,1866.5L1634,1868.5" stroke="#8a8d94" stroke-width="1.4"/><rect x="1497" y="1877.5" width="5" height="1.2" fill="#d0d2d8" /><rect x="1505.5" y="1877.2" width="5" height="1.2" fill="#d0d2d8" /><rect x="1514" y="1876.9" width="5" height="1.2" fill="#d0d2d8" /><rect x="1522.5" y="1876.6" width="5" height="1.2" fill="#d0d2d8" /><rect x="1531" y="1876.3" width="5" height="1.2" fill="#d0d2d8" /><rect x="1494" y="1881.5" width="3" height="1.8" fill="#c8cad0" /><rect x="1503" y="1881.5" width="5" height="1.8" fill="#c8cad0" /><rect x="1512" y="1881.5" width="3" height="1.8" fill="#c8cad0" /><rect x="1521" y="1881.5" width="5" height="1.8" fill="#c8cad0" /><circle cx="1540" cy="1895" r="4.5" fill="#464950" /><ellipse cx="1577.1" cy="1913" rx="28.5" ry="31" fill="#dcdce0" stroke="#9a9ca2" stroke-width="1"/><ellipse cx="1577.6" cy="1913.5" rx="21" ry="23" fill="#17171b" /><ellipse cx="1578" cy="1914" rx="14" ry="15.5" fill="url(#lens)" /><path d="M1573,1906a8,8 0 1 0 10,9" fill="none" stroke="#b8b0bc" stroke-width="1.2" opacity=".7"/><path d="M2312.4,1942V1968Q2312.4,1981 2330,1981H2427Q2444.2,1981 2444.2,1968V1942Z" fill="#18181b"/><ellipse cx="2378.3" cy="1942" rx="66" ry="9" fill="#26262a" /><path d="M2315,1942C2315,1900 2320,1850 2334,1834C2340,1828 2350,1828 2354,1834L2354,1900L2402,1900L2402,1834C2408,1828 2418,1828 2424,1835C2438,1852 2442,1900 2442,1942Z" fill="#1c1c20"/><ellipse cx="2378.3" cy="1941" rx="63.5" ry="7" fill="#1c1c20" /><path d="M2345.5,1923V1903Q2345.5,1896 2353,1896H2403Q2410.5,1896 2410.5,1903V1923Q2378,1927 2345.5,1923Z" fill="#fff"/><rect x="2345" y="1827.4" width="67" height="70.4" fill="#232327" rx="9"/><rect x="2347" y="1829" width="63" height="10" fill="#34343a" rx="6"/><circle cx="2379.3" cy="1862" r="20" fill="#0c0c0f" stroke="#3a3a40" stroke-width="1.5"/><circle cx="2379.3" cy="1862" r="13.5" fill="url(#lens2)" /><ellipse cx="2381.5" cy="1858" rx="5" ry="2.6" fill="#c89af0" opacity=".8" transform="rotate(-20 2381.5 1858)"/><circle cx="2368" cy="1961.5" r="0.9" fill="#aaa" /><rect x="2355" y="1960.8" width="9" height="1.2" fill="#888" /><rect x="2372" y="1960.8" width="11" height="1.2" fill="#888" /><path d="M729,309.5H643V677.7H1615" fill="none" stroke="#0a8d42" stroke-width="4.1" /><path d="M707,507H675V658.7H1615" fill="none" stroke="#0a8d42" stroke-width="4.1" /><path d="M1277,321.7H923.4V626.4H1615" fill="none" stroke="#0a8d42" stroke-width="4.1" /><path d="M1497,529V619.7H1615" fill="none" stroke="#0a8d42" stroke-width="4.1" /><path d="M2089.5,324.6H2466.3V626H1986" fill="none" stroke="#0a8d42" stroke-width="4.1" /><path d="M2653,327.7H2740.7V682.4H1986" fill="none" stroke="#0a8d42" stroke-width="4.1" /><path d="M2684.8,514.2H2717.8V655.7H1986" fill="none" stroke="#0a8d42" stroke-width="4.1" /><path d="M1615,696.4H95.5V2175.8H910.6V2098" fill="none" stroke="#0a8d42" stroke-width="4.1" /><path d="M1615,737.8H181V2018H265" fill="none" stroke="#0a8d42" stroke-width="4.1" /><path d="M1615,758.7H211V1462.5H268" fill="none" stroke="#0a8d42" stroke-width="4.1" /><path d="M1986,694.7L3249.3,696V2110H2631.3V2074" fill="none" stroke="#0a8d42" stroke-width="4.1" /><path d="M1986,714.7L3225.8,713V1979.7H3200" fill="none" stroke="#0a8d42" stroke-width="4.1" /><path d="M1986,755.6L3183,757V1473.5H3159" fill="none" stroke="#0a8d42" stroke-width="4.1" /><path d="M1986,791.6H2581.5V878" fill="none" stroke="#0a8d42" stroke-width="4.1" /><path d="M1986,806.2H2424.7V1078" fill="none" stroke="#0a8d42" stroke-width="4.1" /><path d="M1986,830.6H2164.6V1136" fill="none" stroke="#0a8d42" stroke-width="4.1" /><path d="M1612.4,1471V1545.5" fill="none" stroke="#0a8d42" stroke-width="4.1" /><path d="M1845.3,531V606" fill="none" stroke="#19e070" stroke-width="4.2" /><rect x="1620.4" y="611" width="360.7" height="224.4" fill="none" stroke="#0a8d42" stroke-width="12.6"/><path d="M1612.3,955V789.2H1173.6V1728.4H1470" fill="none" stroke="#ec14e4" stroke-width="4.1" /><polygon points="1493.3,1728.4 1468.3,1715.9 1468.3,1740.9" fill="#ec14e4" /><path d="M2406.8,1834V1557H1745" fill="none" stroke="#ec14e4" stroke-width="4.1" /><polygon points="1722,1557.3 1747,1544.8 1747,1569.8" fill="#ec14e4" /><path d="M1666,1578V1643" fill="none" stroke="#ec14e4" stroke-width="4.1" /><polygon points="1666,1666.3 1653.5,1641.3 1678.5,1641.3" fill="#ec14e4" /><path d="M1689,1720H1878" fill="none" stroke="#ec14e4" stroke-width="4.1" /><polygon points="1898,1719.8 1873,1707.3 1873,1732.3" fill="#ec14e4" /><path d="M1642,1758V1841" fill="none" stroke="#ec14e4" stroke-width="4.1" /><polygon points="1642,1863.5 1629.5,1838.5 1654.5,1838.5" fill="#ec14e4" /><path d="M1430,1467.3H1417.7V1717H1462" fill="none" stroke="#fb9b08" stroke-width="4.1" /><polygon points="1447.7,1467.3 1423.7,1455.8 1423.7,1478.8" fill="#fb9b08" /><polygon points="1484.5,1717 1460.5,1705.5 1460.5,1728.5" fill="#fb9b08" /><path d="M1740,1578H2365.5V1802" fill="none" stroke="#fb9b08" stroke-width="4.1" /><polygon points="1717,1578.2 1742,1565.7 1742,1590.7" fill="#fb9b08" /><polygon points="2365.5,1826 2353,1801 2378,1801" fill="#fb9b08" /><path d="M1538.3,1602V1643" fill="none" stroke="#fb9b08" stroke-width="4.1" /><polygon points="1538.3,1579.5 1525.8,1604.5 1550.8,1604.5" fill="#fb9b08" /><polygon points="1538.3,1666 1525.8,1641 1550.8,1641" fill="#fb9b08" /><path d="M1553.2,1780V1846" fill="none" stroke="#fb9b08" stroke-width="4.1" /><polygon points="1553.2,1756.5 1540.7,1781.5 1565.7,1781.5" fill="#fb9b08" /><polygon points="1553.2,1870 1540.7,1845 1565.7,1845" fill="#fb9b08" /><path d="M1450.3,1023V1052" fill="none" stroke="#10c4ee" stroke-width="4.1" /><polygon points="1450.3,1074 1437.8,1049 1462.8,1049" fill="#10c4ee" /><path d="M1668.5,990V1052" fill="none" stroke="#10c4ee" stroke-width="4.1" /><polygon points="1668.5,1074 1656,1049 1681,1049" fill="#10c4ee" /><path d="M1750,975H1830" fill="none" stroke="#10c4ee" stroke-width="4.1" /><polygon points="1854,975 1829,962.5 1829,987.5" fill="#10c4ee" /><path d="M2005.7,1020V1108" fill="none" stroke="#10c4ee" stroke-width="4.1" /><polygon points="2005.7,1130.5 1993.2,1105.5 2018.2,1105.5" fill="#10c4ee" /><path d="M1758,1152.9H1942" fill="none" stroke="#10c4ee" stroke-width="4.1" /><polygon points="1965.3,1152.9 1940.3,1140.4 1940.3,1165.4" fill="#10c4ee" /><path d="M1728,1184.7H1942" fill="none" stroke="#10c4ee" stroke-width="4.1" /><polygon points="1965.3,1184.7 1940.3,1172.2 1940.3,1197.2" fill="#10c4ee" /><path d="M1458,1436H1316.5V1135.3H1370" fill="none" stroke="#10c4ee" stroke-width="4.1" /><polygon points="1394,1135.3 1369,1122.8 1369,1147.8" fill="#10c4ee" /><path d="M1667.8,1222V1338.5H2096" fill="none" stroke="#10c4ee" stroke-width="4.1" /><polygon points="2120,1338.3 2095,1325.8 2095,1350.8" fill="#10c4ee" /><path d="M1055,1449H1430" fill="none" stroke="#0e8fd0" stroke-width="4.1" /><polygon points="1447.7,1449 1427.7,1438 1427.7,1460" fill="#0e8fd0" /><circle cx="815.2" cy="1448.3" r="3" fill="#111" /><circle cx="838.2" cy="1448.3" r="3" fill="#111" /><circle cx="861.1" cy="1448.3" r="3" fill="#111" /><circle cx="884.2" cy="1448.3" r="3" fill="#111" /><circle cx="906.8" cy="1448.3" r="3" fill="#111" /><circle cx="929.9" cy="1448.3" r="3" fill="#111" /><circle cx="952.8" cy="1448.3" r="3" fill="#111" /></svg></body></html>
